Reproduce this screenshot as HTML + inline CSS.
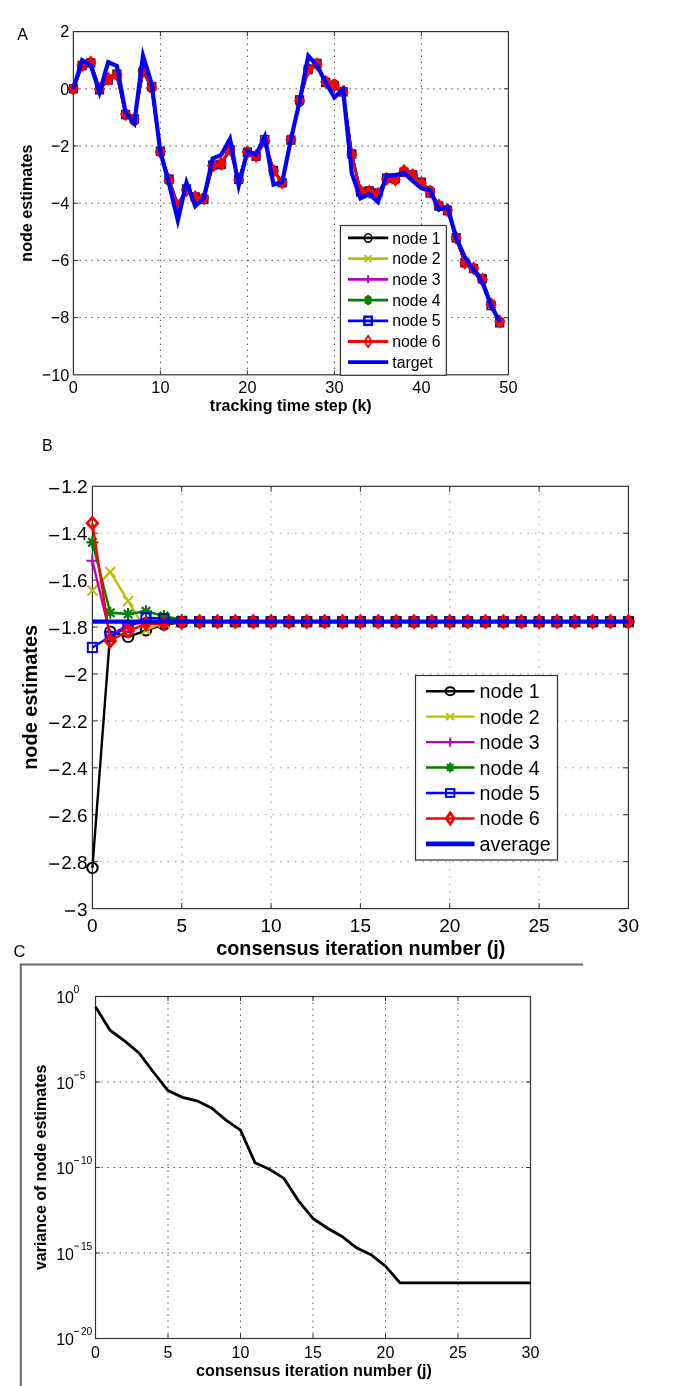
<!DOCTYPE html>
<html><head><meta charset="utf-8"><title>Figure</title>
<style>html,body{margin:0;padding:0;background:#fff;}body{width:685px;height:1386px;overflow:hidden;font-family:"Liberation Sans", sans-serif;}svg{display:block;filter:blur(0.4px);}</style>
</head><body>
<svg width="685" height="1386" viewBox="0 0 685 1386" font-family='"Liberation Sans", sans-serif'><g id="panelA">
<path d="M160.4 31.6V374.8M247.4 31.6V374.8M334.4 31.6V374.8M421.4 31.6V374.8M73.4 88.8H508.4M73.4 146H508.4M73.4 203.2H508.4M73.4 260.4H508.4M73.4 317.6H508.4" stroke="#4a4a4a" stroke-width="1" stroke-dasharray="1.4 4.6" fill="none"/>
<path d="M160.4 374.8v-4.5M160.4 31.6v4.5M247.4 374.8v-4.5M247.4 31.6v4.5M334.4 374.8v-4.5M334.4 31.6v4.5M421.4 374.8v-4.5M421.4 31.6v4.5M73.4 88.8h4.5M508.4 88.8h-4.5M73.4 146h4.5M508.4 146h-4.5M73.4 203.2h4.5M508.4 203.2h-4.5M73.4 260.4h4.5M508.4 260.4h-4.5M73.4 317.6h4.5M508.4 317.6h-4.5" stroke="#333" stroke-width="1" fill="none"/>
<rect x="73.4" y="31.6" width="435" height="343.2" fill="none" stroke="#333" stroke-width="1.2"/>
<polyline points="73.4,88.8 82.1,65.81 90.8,62.36 99.5,89.46 108.2,78.49 116.9,74.14 125.6,115.21 134.3,121.08 143,70.1 151.7,88.34 160.4,152.48 169.1,178.9 177.8,205.86 186.5,189.08 195.2,197.26 203.9,197.65 212.6,166.73 221.3,163.35 230,148.09 238.7,179.68 247.4,151.6 256.1,155.52 264.8,142.1 273.5,170.14 282.2,182.06 290.9,139.99 299.6,102.15 308.3,68.31 317,64.28 325.7,81.31 334.4,84 343.1,91.33 351.8,153.66 360.5,191.49 369.2,190.9 377.9,194.21 386.6,177.64 395.3,178.38 404,172.03 412.7,176.21 421.4,183.99 430.1,190.43 438.8,205.67 447.5,209.7 456.2,238.38 464.9,262.67 473.6,268.73 482.3,279.99 491,303.91 499.7,321.36" fill="none" stroke="#000000" stroke-width="2.4" stroke-linejoin="miter" stroke-miterlimit="10" />
<circle cx="73.4" cy="88.8" r="4" fill="none" stroke="#000000" stroke-width="1.5"/><circle cx="82.1" cy="65.81" r="4" fill="none" stroke="#000000" stroke-width="1.5"/><circle cx="90.8" cy="62.36" r="4" fill="none" stroke="#000000" stroke-width="1.5"/><circle cx="99.5" cy="89.46" r="4" fill="none" stroke="#000000" stroke-width="1.5"/><circle cx="108.2" cy="78.49" r="4" fill="none" stroke="#000000" stroke-width="1.5"/><circle cx="116.9" cy="74.14" r="4" fill="none" stroke="#000000" stroke-width="1.5"/><circle cx="125.6" cy="115.21" r="4" fill="none" stroke="#000000" stroke-width="1.5"/><circle cx="134.3" cy="121.08" r="4" fill="none" stroke="#000000" stroke-width="1.5"/><circle cx="143" cy="70.1" r="4" fill="none" stroke="#000000" stroke-width="1.5"/><circle cx="151.7" cy="88.34" r="4" fill="none" stroke="#000000" stroke-width="1.5"/><circle cx="160.4" cy="152.48" r="4" fill="none" stroke="#000000" stroke-width="1.5"/><circle cx="169.1" cy="178.9" r="4" fill="none" stroke="#000000" stroke-width="1.5"/><circle cx="177.8" cy="205.86" r="4" fill="none" stroke="#000000" stroke-width="1.5"/><circle cx="186.5" cy="189.08" r="4" fill="none" stroke="#000000" stroke-width="1.5"/><circle cx="195.2" cy="197.26" r="4" fill="none" stroke="#000000" stroke-width="1.5"/><circle cx="203.9" cy="197.65" r="4" fill="none" stroke="#000000" stroke-width="1.5"/><circle cx="212.6" cy="166.73" r="4" fill="none" stroke="#000000" stroke-width="1.5"/><circle cx="221.3" cy="163.35" r="4" fill="none" stroke="#000000" stroke-width="1.5"/><circle cx="230" cy="148.09" r="4" fill="none" stroke="#000000" stroke-width="1.5"/><circle cx="238.7" cy="179.68" r="4" fill="none" stroke="#000000" stroke-width="1.5"/><circle cx="247.4" cy="151.6" r="4" fill="none" stroke="#000000" stroke-width="1.5"/><circle cx="256.1" cy="155.52" r="4" fill="none" stroke="#000000" stroke-width="1.5"/><circle cx="264.8" cy="142.1" r="4" fill="none" stroke="#000000" stroke-width="1.5"/><circle cx="273.5" cy="170.14" r="4" fill="none" stroke="#000000" stroke-width="1.5"/><circle cx="282.2" cy="182.06" r="4" fill="none" stroke="#000000" stroke-width="1.5"/><circle cx="290.9" cy="139.99" r="4" fill="none" stroke="#000000" stroke-width="1.5"/><circle cx="299.6" cy="102.15" r="4" fill="none" stroke="#000000" stroke-width="1.5"/><circle cx="308.3" cy="68.31" r="4" fill="none" stroke="#000000" stroke-width="1.5"/><circle cx="317" cy="64.28" r="4" fill="none" stroke="#000000" stroke-width="1.5"/><circle cx="325.7" cy="81.31" r="4" fill="none" stroke="#000000" stroke-width="1.5"/><circle cx="334.4" cy="84" r="4" fill="none" stroke="#000000" stroke-width="1.5"/><circle cx="343.1" cy="91.33" r="4" fill="none" stroke="#000000" stroke-width="1.5"/><circle cx="351.8" cy="153.66" r="4" fill="none" stroke="#000000" stroke-width="1.5"/><circle cx="360.5" cy="191.49" r="4" fill="none" stroke="#000000" stroke-width="1.5"/><circle cx="369.2" cy="190.9" r="4" fill="none" stroke="#000000" stroke-width="1.5"/><circle cx="377.9" cy="194.21" r="4" fill="none" stroke="#000000" stroke-width="1.5"/><circle cx="386.6" cy="177.64" r="4" fill="none" stroke="#000000" stroke-width="1.5"/><circle cx="395.3" cy="178.38" r="4" fill="none" stroke="#000000" stroke-width="1.5"/><circle cx="404" cy="172.03" r="4" fill="none" stroke="#000000" stroke-width="1.5"/><circle cx="412.7" cy="176.21" r="4" fill="none" stroke="#000000" stroke-width="1.5"/><circle cx="421.4" cy="183.99" r="4" fill="none" stroke="#000000" stroke-width="1.5"/><circle cx="430.1" cy="190.43" r="4" fill="none" stroke="#000000" stroke-width="1.5"/><circle cx="438.8" cy="205.67" r="4" fill="none" stroke="#000000" stroke-width="1.5"/><circle cx="447.5" cy="209.7" r="4" fill="none" stroke="#000000" stroke-width="1.5"/><circle cx="456.2" cy="238.38" r="4" fill="none" stroke="#000000" stroke-width="1.5"/><circle cx="464.9" cy="262.67" r="4" fill="none" stroke="#000000" stroke-width="1.5"/><circle cx="473.6" cy="268.73" r="4" fill="none" stroke="#000000" stroke-width="1.5"/><circle cx="482.3" cy="279.99" r="4" fill="none" stroke="#000000" stroke-width="1.5"/><circle cx="491" cy="303.91" r="4" fill="none" stroke="#000000" stroke-width="1.5"/><circle cx="499.7" cy="321.36" r="4" fill="none" stroke="#000000" stroke-width="1.5"/>
<polyline points="73.4,88.8 82.1,63.91 90.8,61.97 99.5,87.86 108.2,77.77 116.9,73.1 125.6,113.48 134.3,120.65 143,70.04 151.7,86.33 160.4,150.56 169.1,180.12 177.8,205.16 186.5,190.87 195.2,196.25 203.9,197.84 212.6,166.35 221.3,164.98 230,148.13 238.7,178.35 247.4,153.47 256.1,155.15 264.8,141.11 273.5,171.88 282.2,182.91 290.9,138.65 299.6,99.75 308.3,70.66 317,63.88 325.7,83.24 334.4,84.46 343.1,92.43 351.8,153.78 360.5,189.81 369.2,191.74 377.9,192.62 386.6,179.43 395.3,180.67 404,170.6 412.7,176.51 421.4,184.05 430.1,192.02 438.8,205.17 447.5,211.05 456.2,239.11 464.9,261.64 473.6,268.94 482.3,278.25 491,303.02 499.7,321.95" fill="none" stroke="#bfbf00" stroke-width="2.4" stroke-linejoin="miter" stroke-miterlimit="10" />
<path d="M69.6 85L77.2 92.6M69.6 92.6L77.2 85" stroke="#bfbf00" stroke-width="1.6" fill="none"/><path d="M78.3 60.11L85.9 67.71M78.3 67.71L85.9 60.11" stroke="#bfbf00" stroke-width="1.6" fill="none"/><path d="M87 58.17L94.6 65.77M87 65.77L94.6 58.17" stroke="#bfbf00" stroke-width="1.6" fill="none"/><path d="M95.7 84.06L103.3 91.66M95.7 91.66L103.3 84.06" stroke="#bfbf00" stroke-width="1.6" fill="none"/><path d="M104.4 73.97L112 81.57M104.4 81.57L112 73.97" stroke="#bfbf00" stroke-width="1.6" fill="none"/><path d="M113.1 69.3L120.7 76.9M113.1 76.9L120.7 69.3" stroke="#bfbf00" stroke-width="1.6" fill="none"/><path d="M121.8 109.68L129.4 117.28M121.8 117.28L129.4 109.68" stroke="#bfbf00" stroke-width="1.6" fill="none"/><path d="M130.5 116.85L138.1 124.45M130.5 124.45L138.1 116.85" stroke="#bfbf00" stroke-width="1.6" fill="none"/><path d="M139.2 66.24L146.8 73.84M139.2 73.84L146.8 66.24" stroke="#bfbf00" stroke-width="1.6" fill="none"/><path d="M147.9 82.53L155.5 90.13M147.9 90.13L155.5 82.53" stroke="#bfbf00" stroke-width="1.6" fill="none"/><path d="M156.6 146.76L164.2 154.36M156.6 154.36L164.2 146.76" stroke="#bfbf00" stroke-width="1.6" fill="none"/><path d="M165.3 176.32L172.9 183.92M165.3 183.92L172.9 176.32" stroke="#bfbf00" stroke-width="1.6" fill="none"/><path d="M174 201.36L181.6 208.96M174 208.96L181.6 201.36" stroke="#bfbf00" stroke-width="1.6" fill="none"/><path d="M182.7 187.07L190.3 194.67M182.7 194.67L190.3 187.07" stroke="#bfbf00" stroke-width="1.6" fill="none"/><path d="M191.4 192.45L199 200.05M191.4 200.05L199 192.45" stroke="#bfbf00" stroke-width="1.6" fill="none"/><path d="M200.1 194.04L207.7 201.64M200.1 201.64L207.7 194.04" stroke="#bfbf00" stroke-width="1.6" fill="none"/><path d="M208.8 162.55L216.4 170.15M208.8 170.15L216.4 162.55" stroke="#bfbf00" stroke-width="1.6" fill="none"/><path d="M217.5 161.18L225.1 168.78M217.5 168.78L225.1 161.18" stroke="#bfbf00" stroke-width="1.6" fill="none"/><path d="M226.2 144.33L233.8 151.93M226.2 151.93L233.8 144.33" stroke="#bfbf00" stroke-width="1.6" fill="none"/><path d="M234.9 174.55L242.5 182.15M234.9 182.15L242.5 174.55" stroke="#bfbf00" stroke-width="1.6" fill="none"/><path d="M243.6 149.67L251.2 157.27M243.6 157.27L251.2 149.67" stroke="#bfbf00" stroke-width="1.6" fill="none"/><path d="M252.3 151.35L259.9 158.95M252.3 158.95L259.9 151.35" stroke="#bfbf00" stroke-width="1.6" fill="none"/><path d="M261 137.31L268.6 144.91M261 144.91L268.6 137.31" stroke="#bfbf00" stroke-width="1.6" fill="none"/><path d="M269.7 168.08L277.3 175.68M269.7 175.68L277.3 168.08" stroke="#bfbf00" stroke-width="1.6" fill="none"/><path d="M278.4 179.11L286 186.71M278.4 186.71L286 179.11" stroke="#bfbf00" stroke-width="1.6" fill="none"/><path d="M287.1 134.85L294.7 142.45M287.1 142.45L294.7 134.85" stroke="#bfbf00" stroke-width="1.6" fill="none"/><path d="M295.8 95.95L303.4 103.55M295.8 103.55L303.4 95.95" stroke="#bfbf00" stroke-width="1.6" fill="none"/><path d="M304.5 66.86L312.1 74.46M304.5 74.46L312.1 66.86" stroke="#bfbf00" stroke-width="1.6" fill="none"/><path d="M313.2 60.08L320.8 67.68M313.2 67.68L320.8 60.08" stroke="#bfbf00" stroke-width="1.6" fill="none"/><path d="M321.9 79.44L329.5 87.04M321.9 87.04L329.5 79.44" stroke="#bfbf00" stroke-width="1.6" fill="none"/><path d="M330.6 80.66L338.2 88.26M330.6 88.26L338.2 80.66" stroke="#bfbf00" stroke-width="1.6" fill="none"/><path d="M339.3 88.63L346.9 96.23M339.3 96.23L346.9 88.63" stroke="#bfbf00" stroke-width="1.6" fill="none"/><path d="M348 149.98L355.6 157.58M348 157.58L355.6 149.98" stroke="#bfbf00" stroke-width="1.6" fill="none"/><path d="M356.7 186.01L364.3 193.61M356.7 193.61L364.3 186.01" stroke="#bfbf00" stroke-width="1.6" fill="none"/><path d="M365.4 187.94L373 195.54M365.4 195.54L373 187.94" stroke="#bfbf00" stroke-width="1.6" fill="none"/><path d="M374.1 188.82L381.7 196.42M374.1 196.42L381.7 188.82" stroke="#bfbf00" stroke-width="1.6" fill="none"/><path d="M382.8 175.63L390.4 183.23M382.8 183.23L390.4 175.63" stroke="#bfbf00" stroke-width="1.6" fill="none"/><path d="M391.5 176.87L399.1 184.47M391.5 184.47L399.1 176.87" stroke="#bfbf00" stroke-width="1.6" fill="none"/><path d="M400.2 166.8L407.8 174.4M400.2 174.4L407.8 166.8" stroke="#bfbf00" stroke-width="1.6" fill="none"/><path d="M408.9 172.71L416.5 180.31M408.9 180.31L416.5 172.71" stroke="#bfbf00" stroke-width="1.6" fill="none"/><path d="M417.6 180.25L425.2 187.85M417.6 187.85L425.2 180.25" stroke="#bfbf00" stroke-width="1.6" fill="none"/><path d="M426.3 188.22L433.9 195.82M426.3 195.82L433.9 188.22" stroke="#bfbf00" stroke-width="1.6" fill="none"/><path d="M435 201.37L442.6 208.97M435 208.97L442.6 201.37" stroke="#bfbf00" stroke-width="1.6" fill="none"/><path d="M443.7 207.25L451.3 214.85M443.7 214.85L451.3 207.25" stroke="#bfbf00" stroke-width="1.6" fill="none"/><path d="M452.4 235.31L460 242.91M452.4 242.91L460 235.31" stroke="#bfbf00" stroke-width="1.6" fill="none"/><path d="M461.1 257.84L468.7 265.44M461.1 265.44L468.7 257.84" stroke="#bfbf00" stroke-width="1.6" fill="none"/><path d="M469.8 265.14L477.4 272.74M469.8 272.74L477.4 265.14" stroke="#bfbf00" stroke-width="1.6" fill="none"/><path d="M478.5 274.45L486.1 282.05M478.5 282.05L486.1 274.45" stroke="#bfbf00" stroke-width="1.6" fill="none"/><path d="M487.2 299.22L494.8 306.82M487.2 306.82L494.8 299.22" stroke="#bfbf00" stroke-width="1.6" fill="none"/><path d="M495.9 318.15L503.5 325.75M495.9 325.75L503.5 318.15" stroke="#bfbf00" stroke-width="1.6" fill="none"/>
<polyline points="73.4,88.8 82.1,65.18 90.8,62.43 99.5,88.67 108.2,78.52 116.9,74.33 125.6,113.62 134.3,118.43 143,71.05 151.7,87.85 160.4,151.09 169.1,181.07 177.8,206.34 186.5,188.68 195.2,197.13 203.9,197.91 212.6,167.13 221.3,163.97 230,148.92 238.7,181.12 247.4,151.96 256.1,155.63 264.8,142.11 273.5,170.52 282.2,182.42 290.9,138.91 299.6,101.23 308.3,68.76 317,63.52 325.7,83.3 334.4,86.34 343.1,91.44 351.8,153.54 360.5,191.9 369.2,191.88 377.9,193.78 386.6,179.4 395.3,179.85 404,171.42 412.7,175.55 421.4,182.91 430.1,192.33 438.8,205.84 447.5,209.29 456.2,239.16 464.9,262.49 473.6,267.74 482.3,280.11 491,304.95 499.7,320.74" fill="none" stroke="#bf00bf" stroke-width="2.4" stroke-linejoin="miter" stroke-miterlimit="10" />
<path d="M68.8 88.8L78 88.8M73.4 84.2L73.4 93.4" stroke="#bf00bf" stroke-width="1.6" fill="none"/><path d="M77.5 65.18L86.7 65.18M82.1 60.58L82.1 69.78" stroke="#bf00bf" stroke-width="1.6" fill="none"/><path d="M86.2 62.43L95.4 62.43M90.8 57.83L90.8 67.03" stroke="#bf00bf" stroke-width="1.6" fill="none"/><path d="M94.9 88.67L104.1 88.67M99.5 84.07L99.5 93.27" stroke="#bf00bf" stroke-width="1.6" fill="none"/><path d="M103.6 78.52L112.8 78.52M108.2 73.92L108.2 83.12" stroke="#bf00bf" stroke-width="1.6" fill="none"/><path d="M112.3 74.33L121.5 74.33M116.9 69.73L116.9 78.93" stroke="#bf00bf" stroke-width="1.6" fill="none"/><path d="M121 113.62L130.2 113.62M125.6 109.02L125.6 118.22" stroke="#bf00bf" stroke-width="1.6" fill="none"/><path d="M129.7 118.43L138.9 118.43M134.3 113.83L134.3 123.03" stroke="#bf00bf" stroke-width="1.6" fill="none"/><path d="M138.4 71.05L147.6 71.05M143 66.45L143 75.65" stroke="#bf00bf" stroke-width="1.6" fill="none"/><path d="M147.1 87.85L156.3 87.85M151.7 83.25L151.7 92.45" stroke="#bf00bf" stroke-width="1.6" fill="none"/><path d="M155.8 151.09L165 151.09M160.4 146.49L160.4 155.69" stroke="#bf00bf" stroke-width="1.6" fill="none"/><path d="M164.5 181.07L173.7 181.07M169.1 176.47L169.1 185.67" stroke="#bf00bf" stroke-width="1.6" fill="none"/><path d="M173.2 206.34L182.4 206.34M177.8 201.74L177.8 210.94" stroke="#bf00bf" stroke-width="1.6" fill="none"/><path d="M181.9 188.68L191.1 188.68M186.5 184.08L186.5 193.28" stroke="#bf00bf" stroke-width="1.6" fill="none"/><path d="M190.6 197.13L199.8 197.13M195.2 192.53L195.2 201.73" stroke="#bf00bf" stroke-width="1.6" fill="none"/><path d="M199.3 197.91L208.5 197.91M203.9 193.31L203.9 202.51" stroke="#bf00bf" stroke-width="1.6" fill="none"/><path d="M208 167.13L217.2 167.13M212.6 162.53L212.6 171.73" stroke="#bf00bf" stroke-width="1.6" fill="none"/><path d="M216.7 163.97L225.9 163.97M221.3 159.37L221.3 168.57" stroke="#bf00bf" stroke-width="1.6" fill="none"/><path d="M225.4 148.92L234.6 148.92M230 144.32L230 153.52" stroke="#bf00bf" stroke-width="1.6" fill="none"/><path d="M234.1 181.12L243.3 181.12M238.7 176.52L238.7 185.72" stroke="#bf00bf" stroke-width="1.6" fill="none"/><path d="M242.8 151.96L252 151.96M247.4 147.36L247.4 156.56" stroke="#bf00bf" stroke-width="1.6" fill="none"/><path d="M251.5 155.63L260.7 155.63M256.1 151.03L256.1 160.23" stroke="#bf00bf" stroke-width="1.6" fill="none"/><path d="M260.2 142.11L269.4 142.11M264.8 137.51L264.8 146.71" stroke="#bf00bf" stroke-width="1.6" fill="none"/><path d="M268.9 170.52L278.1 170.52M273.5 165.92L273.5 175.12" stroke="#bf00bf" stroke-width="1.6" fill="none"/><path d="M277.6 182.42L286.8 182.42M282.2 177.82L282.2 187.02" stroke="#bf00bf" stroke-width="1.6" fill="none"/><path d="M286.3 138.91L295.5 138.91M290.9 134.31L290.9 143.51" stroke="#bf00bf" stroke-width="1.6" fill="none"/><path d="M295 101.23L304.2 101.23M299.6 96.63L299.6 105.83" stroke="#bf00bf" stroke-width="1.6" fill="none"/><path d="M303.7 68.76L312.9 68.76M308.3 64.16L308.3 73.36" stroke="#bf00bf" stroke-width="1.6" fill="none"/><path d="M312.4 63.52L321.6 63.52M317 58.92L317 68.12" stroke="#bf00bf" stroke-width="1.6" fill="none"/><path d="M321.1 83.3L330.3 83.3M325.7 78.7L325.7 87.9" stroke="#bf00bf" stroke-width="1.6" fill="none"/><path d="M329.8 86.34L339 86.34M334.4 81.74L334.4 90.94" stroke="#bf00bf" stroke-width="1.6" fill="none"/><path d="M338.5 91.44L347.7 91.44M343.1 86.84L343.1 96.04" stroke="#bf00bf" stroke-width="1.6" fill="none"/><path d="M347.2 153.54L356.4 153.54M351.8 148.94L351.8 158.14" stroke="#bf00bf" stroke-width="1.6" fill="none"/><path d="M355.9 191.9L365.1 191.9M360.5 187.3L360.5 196.5" stroke="#bf00bf" stroke-width="1.6" fill="none"/><path d="M364.6 191.88L373.8 191.88M369.2 187.28L369.2 196.48" stroke="#bf00bf" stroke-width="1.6" fill="none"/><path d="M373.3 193.78L382.5 193.78M377.9 189.18L377.9 198.38" stroke="#bf00bf" stroke-width="1.6" fill="none"/><path d="M382 179.4L391.2 179.4M386.6 174.8L386.6 184" stroke="#bf00bf" stroke-width="1.6" fill="none"/><path d="M390.7 179.85L399.9 179.85M395.3 175.25L395.3 184.45" stroke="#bf00bf" stroke-width="1.6" fill="none"/><path d="M399.4 171.42L408.6 171.42M404 166.82L404 176.02" stroke="#bf00bf" stroke-width="1.6" fill="none"/><path d="M408.1 175.55L417.3 175.55M412.7 170.95L412.7 180.15" stroke="#bf00bf" stroke-width="1.6" fill="none"/><path d="M416.8 182.91L426 182.91M421.4 178.31L421.4 187.51" stroke="#bf00bf" stroke-width="1.6" fill="none"/><path d="M425.5 192.33L434.7 192.33M430.1 187.73L430.1 196.93" stroke="#bf00bf" stroke-width="1.6" fill="none"/><path d="M434.2 205.84L443.4 205.84M438.8 201.24L438.8 210.44" stroke="#bf00bf" stroke-width="1.6" fill="none"/><path d="M442.9 209.29L452.1 209.29M447.5 204.69L447.5 213.89" stroke="#bf00bf" stroke-width="1.6" fill="none"/><path d="M451.6 239.16L460.8 239.16M456.2 234.56L456.2 243.76" stroke="#bf00bf" stroke-width="1.6" fill="none"/><path d="M460.3 262.49L469.5 262.49M464.9 257.89L464.9 267.09" stroke="#bf00bf" stroke-width="1.6" fill="none"/><path d="M469 267.74L478.2 267.74M473.6 263.14L473.6 272.34" stroke="#bf00bf" stroke-width="1.6" fill="none"/><path d="M477.7 280.11L486.9 280.11M482.3 275.51L482.3 284.71" stroke="#bf00bf" stroke-width="1.6" fill="none"/><path d="M486.4 304.95L495.6 304.95M491 300.35L491 309.55" stroke="#bf00bf" stroke-width="1.6" fill="none"/><path d="M495.1 320.74L504.3 320.74M499.7 316.14L499.7 325.34" stroke="#bf00bf" stroke-width="1.6" fill="none"/>
<polyline points="73.4,88.8 82.1,65.81 90.8,63.38 99.5,89.27 108.2,78.22 116.9,75.64 125.6,114.48 134.3,120.16 143,70.11 151.7,87.83 160.4,150.7 169.1,181.27 177.8,206.24 186.5,189.61 195.2,196.09 203.9,198.19 212.6,166.52 221.3,164.82 230,149.06 238.7,180.63 247.4,151.41 256.1,155.04 264.8,141.76 273.5,171.52 282.2,181.44 290.9,139.02 299.6,99.94 308.3,69.79 317,65.26 325.7,82.53 334.4,84.24 343.1,92.6 351.8,155.31 360.5,191.43 369.2,191.99 377.9,194.31 386.6,177.69 395.3,180.45 404,172.3 412.7,173.9 421.4,182.09 430.1,190.37 438.8,205.68 447.5,208.78 456.2,236.58 464.9,263.48 473.6,267.71 482.3,278.6 491,303.69 499.7,321.55" fill="none" stroke="#008000" stroke-width="2.4" stroke-linejoin="miter" stroke-miterlimit="10" />
<path d="M68.8 88.8L78 88.8M73.4 84.2L73.4 93.4M70.15 85.55L76.65 92.05M70.15 92.05L76.65 85.55" stroke="#008000" stroke-width="1.6" fill="none"/><path d="M77.5 65.81L86.7 65.81M82.1 61.21L82.1 70.41M78.85 62.56L85.35 69.06M78.85 69.06L85.35 62.56" stroke="#008000" stroke-width="1.6" fill="none"/><path d="M86.2 63.38L95.4 63.38M90.8 58.78L90.8 67.98M87.55 60.13L94.05 66.63M87.55 66.63L94.05 60.13" stroke="#008000" stroke-width="1.6" fill="none"/><path d="M94.9 89.27L104.1 89.27M99.5 84.67L99.5 93.87M96.25 86.02L102.75 92.52M96.25 92.52L102.75 86.02" stroke="#008000" stroke-width="1.6" fill="none"/><path d="M103.6 78.22L112.8 78.22M108.2 73.62L108.2 82.82M104.95 74.97L111.45 81.48M104.95 81.48L111.45 74.97" stroke="#008000" stroke-width="1.6" fill="none"/><path d="M112.3 75.64L121.5 75.64M116.9 71.04L116.9 80.24M113.65 72.39L120.15 78.89M113.65 78.89L120.15 72.39" stroke="#008000" stroke-width="1.6" fill="none"/><path d="M121 114.48L130.2 114.48M125.6 109.88L125.6 119.08M122.35 111.22L128.85 117.73M122.35 117.73L128.85 111.22" stroke="#008000" stroke-width="1.6" fill="none"/><path d="M129.7 120.16L138.9 120.16M134.3 115.56L134.3 124.76M131.05 116.91L137.55 123.42M131.05 123.42L137.55 116.91" stroke="#008000" stroke-width="1.6" fill="none"/><path d="M138.4 70.11L147.6 70.11M143 65.51L143 74.71M139.75 66.86L146.25 73.37M139.75 73.37L146.25 66.86" stroke="#008000" stroke-width="1.6" fill="none"/><path d="M147.1 87.83L156.3 87.83M151.7 83.23L151.7 92.43M148.45 84.58L154.95 91.08M148.45 91.08L154.95 84.58" stroke="#008000" stroke-width="1.6" fill="none"/><path d="M155.8 150.7L165 150.7M160.4 146.1L160.4 155.3M157.15 147.45L163.65 153.96M157.15 153.96L163.65 147.45" stroke="#008000" stroke-width="1.6" fill="none"/><path d="M164.5 181.27L173.7 181.27M169.1 176.67L169.1 185.87M165.85 178.01L172.35 184.52M165.85 184.52L172.35 178.01" stroke="#008000" stroke-width="1.6" fill="none"/><path d="M173.2 206.24L182.4 206.24M177.8 201.64L177.8 210.84M174.55 202.99L181.05 209.49M174.55 209.49L181.05 202.99" stroke="#008000" stroke-width="1.6" fill="none"/><path d="M181.9 189.61L191.1 189.61M186.5 185.01L186.5 194.21M183.25 186.36L189.75 192.87M183.25 192.87L189.75 186.36" stroke="#008000" stroke-width="1.6" fill="none"/><path d="M190.6 196.09L199.8 196.09M195.2 191.49L195.2 200.69M191.95 192.84L198.45 199.35M191.95 199.35L198.45 192.84" stroke="#008000" stroke-width="1.6" fill="none"/><path d="M199.3 198.19L208.5 198.19M203.9 193.59L203.9 202.79M200.65 194.94L207.15 201.44M200.65 201.44L207.15 194.94" stroke="#008000" stroke-width="1.6" fill="none"/><path d="M208 166.52L217.2 166.52M212.6 161.92L212.6 171.12M209.35 163.27L215.85 169.77M209.35 169.77L215.85 163.27" stroke="#008000" stroke-width="1.6" fill="none"/><path d="M216.7 164.82L225.9 164.82M221.3 160.22L221.3 169.42M218.05 161.56L224.55 168.07M218.05 168.07L224.55 161.56" stroke="#008000" stroke-width="1.6" fill="none"/><path d="M225.4 149.06L234.6 149.06M230 144.46L230 153.66M226.75 145.81L233.25 152.31M226.75 152.31L233.25 145.81" stroke="#008000" stroke-width="1.6" fill="none"/><path d="M234.1 180.63L243.3 180.63M238.7 176.03L238.7 185.23M235.45 177.38L241.95 183.88M235.45 183.88L241.95 177.38" stroke="#008000" stroke-width="1.6" fill="none"/><path d="M242.8 151.41L252 151.41M247.4 146.81L247.4 156.01M244.15 148.16L250.65 154.67M244.15 154.67L250.65 148.16" stroke="#008000" stroke-width="1.6" fill="none"/><path d="M251.5 155.04L260.7 155.04M256.1 150.44L256.1 159.64M252.85 151.79L259.35 158.29M252.85 158.29L259.35 151.79" stroke="#008000" stroke-width="1.6" fill="none"/><path d="M260.2 141.76L269.4 141.76M264.8 137.16L264.8 146.36M261.55 138.5L268.05 145.01M261.55 145.01L268.05 138.5" stroke="#008000" stroke-width="1.6" fill="none"/><path d="M268.9 171.52L278.1 171.52M273.5 166.92L273.5 176.12M270.25 168.26L276.75 174.77M270.25 174.77L276.75 168.26" stroke="#008000" stroke-width="1.6" fill="none"/><path d="M277.6 181.44L286.8 181.44M282.2 176.84L282.2 186.04M278.95 178.19L285.45 184.7M278.95 184.7L285.45 178.19" stroke="#008000" stroke-width="1.6" fill="none"/><path d="M286.3 139.02L295.5 139.02M290.9 134.42L290.9 143.62M287.65 135.76L294.15 142.27M287.65 142.27L294.15 135.76" stroke="#008000" stroke-width="1.6" fill="none"/><path d="M295 99.94L304.2 99.94M299.6 95.34L299.6 104.54M296.35 96.68L302.85 103.19M296.35 103.19L302.85 96.68" stroke="#008000" stroke-width="1.6" fill="none"/><path d="M303.7 69.79L312.9 69.79M308.3 65.19L308.3 74.39M305.05 66.54L311.55 73.05M305.05 73.05L311.55 66.54" stroke="#008000" stroke-width="1.6" fill="none"/><path d="M312.4 65.26L321.6 65.26M317 60.66L317 69.86M313.75 62.01L320.25 68.52M313.75 68.52L320.25 62.01" stroke="#008000" stroke-width="1.6" fill="none"/><path d="M321.1 82.53L330.3 82.53M325.7 77.93L325.7 87.13M322.45 79.28L328.95 85.78M322.45 85.78L328.95 79.28" stroke="#008000" stroke-width="1.6" fill="none"/><path d="M329.8 84.24L339 84.24M334.4 79.64L334.4 88.84M331.15 80.99L337.65 87.49M331.15 87.49L337.65 80.99" stroke="#008000" stroke-width="1.6" fill="none"/><path d="M338.5 92.6L347.7 92.6M343.1 88L343.1 97.2M339.85 89.35L346.35 95.85M339.85 95.85L346.35 89.35" stroke="#008000" stroke-width="1.6" fill="none"/><path d="M347.2 155.31L356.4 155.31M351.8 150.71L351.8 159.91M348.55 152.05L355.05 158.56M348.55 158.56L355.05 152.05" stroke="#008000" stroke-width="1.6" fill="none"/><path d="M355.9 191.43L365.1 191.43M360.5 186.83L360.5 196.03M357.25 188.17L363.75 194.68M357.25 194.68L363.75 188.17" stroke="#008000" stroke-width="1.6" fill="none"/><path d="M364.6 191.99L373.8 191.99M369.2 187.39L369.2 196.59M365.95 188.74L372.45 195.24M365.95 195.24L372.45 188.74" stroke="#008000" stroke-width="1.6" fill="none"/><path d="M373.3 194.31L382.5 194.31M377.9 189.71L377.9 198.91M374.65 191.05L381.15 197.56M374.65 197.56L381.15 191.05" stroke="#008000" stroke-width="1.6" fill="none"/><path d="M382 177.69L391.2 177.69M386.6 173.09L386.6 182.29M383.35 174.43L389.85 180.94M383.35 180.94L389.85 174.43" stroke="#008000" stroke-width="1.6" fill="none"/><path d="M390.7 180.45L399.9 180.45M395.3 175.85L395.3 185.05M392.05 177.19L398.55 183.7M392.05 183.7L398.55 177.19" stroke="#008000" stroke-width="1.6" fill="none"/><path d="M399.4 172.3L408.6 172.3M404 167.7L404 176.9M400.75 169.05L407.25 175.55M400.75 175.55L407.25 169.05" stroke="#008000" stroke-width="1.6" fill="none"/><path d="M408.1 173.9L417.3 173.9M412.7 169.3L412.7 178.5M409.45 170.65L415.95 177.16M409.45 177.16L415.95 170.65" stroke="#008000" stroke-width="1.6" fill="none"/><path d="M416.8 182.09L426 182.09M421.4 177.49L421.4 186.69M418.15 178.84L424.65 185.35M418.15 185.35L424.65 178.84" stroke="#008000" stroke-width="1.6" fill="none"/><path d="M425.5 190.37L434.7 190.37M430.1 185.77L430.1 194.97M426.85 187.11L433.35 193.62M426.85 193.62L433.35 187.11" stroke="#008000" stroke-width="1.6" fill="none"/><path d="M434.2 205.68L443.4 205.68M438.8 201.08L438.8 210.28M435.55 202.42L442.05 208.93M435.55 208.93L442.05 202.42" stroke="#008000" stroke-width="1.6" fill="none"/><path d="M442.9 208.78L452.1 208.78M447.5 204.18L447.5 213.38M444.25 205.52L450.75 212.03M444.25 212.03L450.75 205.52" stroke="#008000" stroke-width="1.6" fill="none"/><path d="M451.6 236.58L460.8 236.58M456.2 231.98L456.2 241.18M452.95 233.33L459.45 239.84M452.95 239.84L459.45 233.33" stroke="#008000" stroke-width="1.6" fill="none"/><path d="M460.3 263.48L469.5 263.48M464.9 258.88L464.9 268.08M461.65 260.23L468.15 266.74M461.65 266.74L468.15 260.23" stroke="#008000" stroke-width="1.6" fill="none"/><path d="M469 267.71L478.2 267.71M473.6 263.11L473.6 272.31M470.35 264.45L476.85 270.96M470.35 270.96L476.85 264.45" stroke="#008000" stroke-width="1.6" fill="none"/><path d="M477.7 278.6L486.9 278.6M482.3 274L482.3 283.2M479.05 275.35L485.55 281.85M479.05 281.85L485.55 275.35" stroke="#008000" stroke-width="1.6" fill="none"/><path d="M486.4 303.69L495.6 303.69M491 299.09L491 308.29M487.75 300.44L494.25 306.94M487.75 306.94L494.25 300.44" stroke="#008000" stroke-width="1.6" fill="none"/><path d="M495.1 321.55L504.3 321.55M499.7 316.95L499.7 326.15M496.45 318.3L502.95 324.8M496.45 324.8L502.95 318.3" stroke="#008000" stroke-width="1.6" fill="none"/>
<polyline points="73.4,88.8 82.1,65.67 90.8,62.94 99.5,89.87 108.2,80.03 116.9,74.25 125.6,114.58 134.3,118.8 143,72.37 151.7,86.5 160.4,151.17 169.1,179.11 177.8,204.64 186.5,188.9 195.2,196.97 203.9,199.44 212.6,165.03 221.3,164.67 230,149.72 238.7,179.28 247.4,152.22 256.1,156.26 264.8,139.6 273.5,170.56 282.2,182.78 290.9,140.13 299.6,99.78 308.3,69.42 317,63.4 325.7,82.36 334.4,85.95 343.1,91.85 351.8,153.96 360.5,192.13 369.2,190.93 377.9,192.84 386.6,178.01 395.3,178.54 404,172.29 412.7,174.8 421.4,182.14 430.1,193.05 438.8,206.14 447.5,210.73 456.2,237.73 464.9,262.91 473.6,268.49 482.3,278.77 491,305.58 499.7,322.88" fill="none" stroke="#0000ff" stroke-width="2.4" stroke-linejoin="miter" stroke-miterlimit="10" />
<rect x="69.5" y="84.9" width="7.8" height="7.8" fill="none" stroke="#10108a" stroke-width="1.5"/><rect x="78.2" y="61.77" width="7.8" height="7.8" fill="none" stroke="#10108a" stroke-width="1.5"/><rect x="86.9" y="59.04" width="7.8" height="7.8" fill="none" stroke="#10108a" stroke-width="1.5"/><rect x="95.6" y="85.97" width="7.8" height="7.8" fill="none" stroke="#10108a" stroke-width="1.5"/><rect x="104.3" y="76.13" width="7.8" height="7.8" fill="none" stroke="#10108a" stroke-width="1.5"/><rect x="113" y="70.35" width="7.8" height="7.8" fill="none" stroke="#10108a" stroke-width="1.5"/><rect x="121.7" y="110.68" width="7.8" height="7.8" fill="none" stroke="#10108a" stroke-width="1.5"/><rect x="130.4" y="114.9" width="7.8" height="7.8" fill="none" stroke="#10108a" stroke-width="1.5"/><rect x="139.1" y="68.47" width="7.8" height="7.8" fill="none" stroke="#10108a" stroke-width="1.5"/><rect x="147.8" y="82.6" width="7.8" height="7.8" fill="none" stroke="#10108a" stroke-width="1.5"/><rect x="156.5" y="147.27" width="7.8" height="7.8" fill="none" stroke="#10108a" stroke-width="1.5"/><rect x="165.2" y="175.21" width="7.8" height="7.8" fill="none" stroke="#10108a" stroke-width="1.5"/><rect x="173.9" y="200.74" width="7.8" height="7.8" fill="none" stroke="#10108a" stroke-width="1.5"/><rect x="182.6" y="185" width="7.8" height="7.8" fill="none" stroke="#10108a" stroke-width="1.5"/><rect x="191.3" y="193.07" width="7.8" height="7.8" fill="none" stroke="#10108a" stroke-width="1.5"/><rect x="200" y="195.54" width="7.8" height="7.8" fill="none" stroke="#10108a" stroke-width="1.5"/><rect x="208.7" y="161.13" width="7.8" height="7.8" fill="none" stroke="#10108a" stroke-width="1.5"/><rect x="217.4" y="160.77" width="7.8" height="7.8" fill="none" stroke="#10108a" stroke-width="1.5"/><rect x="226.1" y="145.82" width="7.8" height="7.8" fill="none" stroke="#10108a" stroke-width="1.5"/><rect x="234.8" y="175.38" width="7.8" height="7.8" fill="none" stroke="#10108a" stroke-width="1.5"/><rect x="243.5" y="148.32" width="7.8" height="7.8" fill="none" stroke="#10108a" stroke-width="1.5"/><rect x="252.2" y="152.36" width="7.8" height="7.8" fill="none" stroke="#10108a" stroke-width="1.5"/><rect x="260.9" y="135.7" width="7.8" height="7.8" fill="none" stroke="#10108a" stroke-width="1.5"/><rect x="269.6" y="166.66" width="7.8" height="7.8" fill="none" stroke="#10108a" stroke-width="1.5"/><rect x="278.3" y="178.88" width="7.8" height="7.8" fill="none" stroke="#10108a" stroke-width="1.5"/><rect x="287" y="136.23" width="7.8" height="7.8" fill="none" stroke="#10108a" stroke-width="1.5"/><rect x="295.7" y="95.88" width="7.8" height="7.8" fill="none" stroke="#10108a" stroke-width="1.5"/><rect x="304.4" y="65.52" width="7.8" height="7.8" fill="none" stroke="#10108a" stroke-width="1.5"/><rect x="313.1" y="59.5" width="7.8" height="7.8" fill="none" stroke="#10108a" stroke-width="1.5"/><rect x="321.8" y="78.46" width="7.8" height="7.8" fill="none" stroke="#10108a" stroke-width="1.5"/><rect x="330.5" y="82.05" width="7.8" height="7.8" fill="none" stroke="#10108a" stroke-width="1.5"/><rect x="339.2" y="87.95" width="7.8" height="7.8" fill="none" stroke="#10108a" stroke-width="1.5"/><rect x="347.9" y="150.06" width="7.8" height="7.8" fill="none" stroke="#10108a" stroke-width="1.5"/><rect x="356.6" y="188.23" width="7.8" height="7.8" fill="none" stroke="#10108a" stroke-width="1.5"/><rect x="365.3" y="187.03" width="7.8" height="7.8" fill="none" stroke="#10108a" stroke-width="1.5"/><rect x="374" y="188.94" width="7.8" height="7.8" fill="none" stroke="#10108a" stroke-width="1.5"/><rect x="382.7" y="174.11" width="7.8" height="7.8" fill="none" stroke="#10108a" stroke-width="1.5"/><rect x="391.4" y="174.64" width="7.8" height="7.8" fill="none" stroke="#10108a" stroke-width="1.5"/><rect x="400.1" y="168.39" width="7.8" height="7.8" fill="none" stroke="#10108a" stroke-width="1.5"/><rect x="408.8" y="170.9" width="7.8" height="7.8" fill="none" stroke="#10108a" stroke-width="1.5"/><rect x="417.5" y="178.24" width="7.8" height="7.8" fill="none" stroke="#10108a" stroke-width="1.5"/><rect x="426.2" y="189.15" width="7.8" height="7.8" fill="none" stroke="#10108a" stroke-width="1.5"/><rect x="434.9" y="202.24" width="7.8" height="7.8" fill="none" stroke="#10108a" stroke-width="1.5"/><rect x="443.6" y="206.83" width="7.8" height="7.8" fill="none" stroke="#10108a" stroke-width="1.5"/><rect x="452.3" y="233.83" width="7.8" height="7.8" fill="none" stroke="#10108a" stroke-width="1.5"/><rect x="461" y="259.01" width="7.8" height="7.8" fill="none" stroke="#10108a" stroke-width="1.5"/><rect x="469.7" y="264.59" width="7.8" height="7.8" fill="none" stroke="#10108a" stroke-width="1.5"/><rect x="478.4" y="274.87" width="7.8" height="7.8" fill="none" stroke="#10108a" stroke-width="1.5"/><rect x="487.1" y="301.68" width="7.8" height="7.8" fill="none" stroke="#10108a" stroke-width="1.5"/><rect x="495.8" y="318.98" width="7.8" height="7.8" fill="none" stroke="#10108a" stroke-width="1.5"/>
<polyline points="73.4,88.8 82.1,65.06 90.8,62.49 99.5,89.09 108.2,78.79 116.9,74.5 125.6,113.97 134.3,119.69 143,71.07 151.7,87.66 160.4,151.72 169.1,180.32 177.8,205.77 186.5,190.04 195.2,197.19 203.9,198.05 212.6,165.73 221.3,163.73 230,149.15 238.7,179.75 247.4,152.29 256.1,156.01 264.8,140.85 273.5,170.88 282.2,182.32 290.9,139.42 299.6,100.81 308.3,69.35 317,64.2 325.7,81.94 334.4,85.08 343.1,91.95 351.8,154.87 360.5,191.19 369.2,191.76 377.9,194.05 386.6,178.89 395.3,179.46 404,170.88 412.7,175.17 421.4,183.18 430.1,191.76 438.8,205.49 447.5,210.06 456.2,237.81 464.9,262.69 473.6,268.41 482.3,279.56 491,304.16 499.7,321.6" fill="none" stroke="#ff0000" stroke-width="2.4" stroke-linejoin="miter" stroke-miterlimit="10" />
<path d="M73.4 82.6L78.3 88.8L73.4 95L68.5 88.8Z" fill="#ff0000" stroke="#ff0000" stroke-width="1.2"/><path d="M82.1 58.86L87 65.06L82.1 71.26L77.2 65.06Z" fill="#ff0000" stroke="#ff0000" stroke-width="1.2"/><path d="M90.8 56.29L95.7 62.49L90.8 68.69L85.9 62.49Z" fill="#ff0000" stroke="#ff0000" stroke-width="1.2"/><path d="M99.5 82.89L104.4 89.09L99.5 95.29L94.6 89.09Z" fill="#ff0000" stroke="#ff0000" stroke-width="1.2"/><path d="M108.2 72.59L113.1 78.79L108.2 84.99L103.3 78.79Z" fill="#ff0000" stroke="#ff0000" stroke-width="1.2"/><path d="M116.9 68.3L121.8 74.5L116.9 80.7L112 74.5Z" fill="#ff0000" stroke="#ff0000" stroke-width="1.2"/><path d="M125.6 107.77L130.5 113.97L125.6 120.17L120.7 113.97Z" fill="#ff0000" stroke="#ff0000" stroke-width="1.2"/><path d="M134.3 113.49L139.2 119.69L134.3 125.89L129.4 119.69Z" fill="#ff0000" stroke="#ff0000" stroke-width="1.2"/><path d="M143 64.87L147.9 71.07L143 77.27L138.1 71.07Z" fill="#ff0000" stroke="#ff0000" stroke-width="1.2"/><path d="M151.7 81.46L156.6 87.66L151.7 93.86L146.8 87.66Z" fill="#ff0000" stroke="#ff0000" stroke-width="1.2"/><path d="M160.4 145.52L165.3 151.72L160.4 157.92L155.5 151.72Z" fill="#ff0000" stroke="#ff0000" stroke-width="1.2"/><path d="M169.1 174.12L174 180.32L169.1 186.52L164.2 180.32Z" fill="#ff0000" stroke="#ff0000" stroke-width="1.2"/><path d="M177.8 199.57L182.7 205.77L177.8 211.97L172.9 205.77Z" fill="#ff0000" stroke="#ff0000" stroke-width="1.2"/><path d="M186.5 183.84L191.4 190.04L186.5 196.24L181.6 190.04Z" fill="#ff0000" stroke="#ff0000" stroke-width="1.2"/><path d="M195.2 190.99L200.1 197.19L195.2 203.39L190.3 197.19Z" fill="#ff0000" stroke="#ff0000" stroke-width="1.2"/><path d="M203.9 191.85L208.8 198.05L203.9 204.25L199 198.05Z" fill="#ff0000" stroke="#ff0000" stroke-width="1.2"/><path d="M212.6 159.53L217.5 165.73L212.6 171.93L207.7 165.73Z" fill="#ff0000" stroke="#ff0000" stroke-width="1.2"/><path d="M221.3 157.53L226.2 163.73L221.3 169.93L216.4 163.73Z" fill="#ff0000" stroke="#ff0000" stroke-width="1.2"/><path d="M230 142.95L234.9 149.15L230 155.35L225.1 149.15Z" fill="#ff0000" stroke="#ff0000" stroke-width="1.2"/><path d="M238.7 173.55L243.6 179.75L238.7 185.95L233.8 179.75Z" fill="#ff0000" stroke="#ff0000" stroke-width="1.2"/><path d="M247.4 146.09L252.3 152.29L247.4 158.49L242.5 152.29Z" fill="#ff0000" stroke="#ff0000" stroke-width="1.2"/><path d="M256.1 149.81L261 156.01L256.1 162.21L251.2 156.01Z" fill="#ff0000" stroke="#ff0000" stroke-width="1.2"/><path d="M264.8 134.65L269.7 140.85L264.8 147.05L259.9 140.85Z" fill="#ff0000" stroke="#ff0000" stroke-width="1.2"/><path d="M273.5 164.68L278.4 170.88L273.5 177.08L268.6 170.88Z" fill="#ff0000" stroke="#ff0000" stroke-width="1.2"/><path d="M282.2 176.12L287.1 182.32L282.2 188.52L277.3 182.32Z" fill="#ff0000" stroke="#ff0000" stroke-width="1.2"/><path d="M290.9 133.22L295.8 139.42L290.9 145.62L286 139.42Z" fill="#ff0000" stroke="#ff0000" stroke-width="1.2"/><path d="M299.6 94.61L304.5 100.81L299.6 107.01L294.7 100.81Z" fill="#ff0000" stroke="#ff0000" stroke-width="1.2"/><path d="M308.3 63.15L313.2 69.35L308.3 75.55L303.4 69.35Z" fill="#ff0000" stroke="#ff0000" stroke-width="1.2"/><path d="M317 58L321.9 64.2L317 70.4L312.1 64.2Z" fill="#ff0000" stroke="#ff0000" stroke-width="1.2"/><path d="M325.7 75.74L330.6 81.94L325.7 88.14L320.8 81.94Z" fill="#ff0000" stroke="#ff0000" stroke-width="1.2"/><path d="M334.4 78.88L339.3 85.08L334.4 91.28L329.5 85.08Z" fill="#ff0000" stroke="#ff0000" stroke-width="1.2"/><path d="M343.1 85.75L348 91.95L343.1 98.15L338.2 91.95Z" fill="#ff0000" stroke="#ff0000" stroke-width="1.2"/><path d="M351.8 148.67L356.7 154.87L351.8 161.07L346.9 154.87Z" fill="#ff0000" stroke="#ff0000" stroke-width="1.2"/><path d="M360.5 184.99L365.4 191.19L360.5 197.39L355.6 191.19Z" fill="#ff0000" stroke="#ff0000" stroke-width="1.2"/><path d="M369.2 185.56L374.1 191.76L369.2 197.96L364.3 191.76Z" fill="#ff0000" stroke="#ff0000" stroke-width="1.2"/><path d="M377.9 187.85L382.8 194.05L377.9 200.25L373 194.05Z" fill="#ff0000" stroke="#ff0000" stroke-width="1.2"/><path d="M386.6 172.69L391.5 178.89L386.6 185.09L381.7 178.89Z" fill="#ff0000" stroke="#ff0000" stroke-width="1.2"/><path d="M395.3 173.26L400.2 179.46L395.3 185.66L390.4 179.46Z" fill="#ff0000" stroke="#ff0000" stroke-width="1.2"/><path d="M404 164.68L408.9 170.88L404 177.08L399.1 170.88Z" fill="#ff0000" stroke="#ff0000" stroke-width="1.2"/><path d="M412.7 168.97L417.6 175.17L412.7 181.37L407.8 175.17Z" fill="#ff0000" stroke="#ff0000" stroke-width="1.2"/><path d="M421.4 176.98L426.3 183.18L421.4 189.38L416.5 183.18Z" fill="#ff0000" stroke="#ff0000" stroke-width="1.2"/><path d="M430.1 185.56L435 191.76L430.1 197.96L425.2 191.76Z" fill="#ff0000" stroke="#ff0000" stroke-width="1.2"/><path d="M438.8 199.29L443.7 205.49L438.8 211.69L433.9 205.49Z" fill="#ff0000" stroke="#ff0000" stroke-width="1.2"/><path d="M447.5 203.86L452.4 210.06L447.5 216.26L442.6 210.06Z" fill="#ff0000" stroke="#ff0000" stroke-width="1.2"/><path d="M456.2 231.61L461.1 237.81L456.2 244.01L451.3 237.81Z" fill="#ff0000" stroke="#ff0000" stroke-width="1.2"/><path d="M464.9 256.49L469.8 262.69L464.9 268.89L460 262.69Z" fill="#ff0000" stroke="#ff0000" stroke-width="1.2"/><path d="M473.6 262.21L478.5 268.41L473.6 274.61L468.7 268.41Z" fill="#ff0000" stroke="#ff0000" stroke-width="1.2"/><path d="M482.3 273.36L487.2 279.56L482.3 285.76L477.4 279.56Z" fill="#ff0000" stroke="#ff0000" stroke-width="1.2"/><path d="M491 297.96L495.9 304.16L491 310.36L486.1 304.16Z" fill="#ff0000" stroke="#ff0000" stroke-width="1.2"/><path d="M499.7 315.4L504.6 321.6L499.7 327.8L494.8 321.6Z" fill="#ff0000" stroke="#ff0000" stroke-width="1.2"/>
<polyline points="73.4,88.8 82.1,60.2 90.8,65.06 99.5,92.23 108.2,62.2 116.9,65.92 125.6,112.54 134.3,123.41 143,55.91 151.7,83.94 160.4,152.01 169.1,184.04 177.8,220.36 186.5,182.61 195.2,206.06 203.9,198.05 212.6,158.58 221.3,154.87 230,138.85 238.7,185.47 247.4,151.15 256.1,154.58 264.8,136.56 273.5,184.61 282.2,182.32 290.9,139.42 299.6,101.38 308.3,55.91 317,65.63 325.7,82.51 334.4,97.38 343.1,89.37 351.8,173.17 360.5,198.34 369.2,194.05 377.9,202.06 386.6,175.74 395.3,175.17 404,172.88 412.7,180.89 421.4,188.33 430.1,190.33 438.8,209.49 447.5,206.92 456.2,237.81 464.9,257.25 473.6,269.84 482.3,282.14 491,305.59 499.7,321.6" fill="none" stroke="#0000ff" stroke-width="4.2" stroke-linejoin="miter" stroke-miterlimit="10" />
<text x="69.3" y="37.3" font-size="16.3" text-anchor="end" >2</text>
<text x="69.3" y="94.5" font-size="16.3" text-anchor="end" >0</text>
<text x="69.3" y="151.7" font-size="16.3" text-anchor="end" >2</text><rect x="51.78" y="145.45" width="7.6" height="1.3" fill="#000"/>
<text x="69.3" y="208.9" font-size="16.3" text-anchor="end" >4</text><rect x="51.78" y="202.65" width="7.6" height="1.3" fill="#000"/>
<text x="69.3" y="266.1" font-size="16.3" text-anchor="end" >6</text><rect x="51.78" y="259.85" width="7.6" height="1.3" fill="#000"/>
<text x="69.3" y="323.3" font-size="16.3" text-anchor="end" >8</text><rect x="51.78" y="317.05" width="7.6" height="1.3" fill="#000"/>
<text x="69.3" y="380.5" font-size="16.3" text-anchor="end" >10</text><rect x="42.72" y="374.25" width="7.6" height="1.3" fill="#000"/>
<text x="73.4" y="393.4" font-size="16.3" text-anchor="middle" >0</text>
<text x="160.4" y="393.4" font-size="16.3" text-anchor="middle" >10</text>
<text x="247.4" y="393.4" font-size="16.3" text-anchor="middle" >20</text>
<text x="334.4" y="393.4" font-size="16.3" text-anchor="middle" >30</text>
<text x="421.4" y="393.4" font-size="16.3" text-anchor="middle" >40</text>
<text x="508.4" y="393.4" font-size="16.3" text-anchor="middle" >50</text>
<text x="290.8" y="411" font-size="16.1" text-anchor="middle" font-weight="bold" >tracking time step (k)</text>
<text x="0" y="0" font-size="16.1" text-anchor="middle" font-weight="bold" transform="translate(32.1,203.1) rotate(-90)">node estimates</text>
<text x="17.2" y="39.7" font-size="16" >A</text>
<rect x="340.4" y="225.5" width="106.0" height="149.8" fill="#fff" stroke="#333" stroke-width="1.2"/>
<line x1="348" y1="237.9" x2="388.2" y2="237.9" stroke="#000000" stroke-width="2.8"/>
<ellipse cx="368.1" cy="237.9" rx="3.7" ry="4.2" fill="none" stroke="#000000" stroke-width="1.6"/>
<text x="392.3" y="243.6" font-size="15.8" >node 1</text>
<line x1="348" y1="258.62" x2="388.2" y2="258.62" stroke="#bfbf00" stroke-width="2.8"/>
<path d="M364.6 255.12L371.6 262.12M364.6 262.12L371.6 255.12" stroke="#bfbf00" stroke-width="2" fill="none"/>
<text x="392.3" y="264.32" font-size="15.8" >node 2</text>
<line x1="348" y1="279.34" x2="388.2" y2="279.34" stroke="#bf00bf" stroke-width="2.8"/>
<path d="M363.6 279.34L372.6 279.34M368.1 275.34L368.1 283.34" stroke="#bf00bf" stroke-width="2" fill="none"/>
<text x="392.3" y="285.04" font-size="15.8" >node 3</text>
<line x1="348" y1="300.06" x2="388.2" y2="300.06" stroke="#008000" stroke-width="2.8"/>
<path d="M364 300.06L372.2 300.06M368.1 294.96L368.1 305.16M365.2 296.45L371 303.67M365.2 303.67L371 296.45" stroke="#008000" stroke-width="2.4" fill="none"/>
<text x="392.3" y="305.76" font-size="15.8" >node 4</text>
<line x1="348" y1="320.78" x2="388.2" y2="320.78" stroke="#0000ff" stroke-width="2.8"/>
<rect x="364.4" y="316.68" width="7.4" height="8.2" fill="none" stroke="#0000ff" stroke-width="2.4"/>
<text x="392.3" y="326.48" font-size="15.8" >node 5</text>
<line x1="348" y1="341.5" x2="388.2" y2="341.5" stroke="#ff0000" stroke-width="2.8"/>
<path d="M368.1 335.8L371.8 341.5L368.1 347.2L364.4 341.5Z" fill="none" stroke="#ff0000" stroke-width="1.8"/>
<text x="392.3" y="347.2" font-size="15.8" >node 6</text>
<line x1="348" y1="362.22" x2="388.2" y2="362.22" stroke="#0000ff" stroke-width="3.7"/>
<text x="392.3" y="367.92" font-size="15.8" >target</text>
</g>
<g id="panelB">
<path d="M181.74 486.3V908.58M271.07 486.3V908.58M360.4 486.3V908.58M449.74 486.3V908.58M539.08 486.3V908.58M92.4 533.22H628.41M92.4 580.14H628.41M92.4 627.06H628.41M92.4 673.98H628.41M92.4 720.9H628.41M92.4 767.82H628.41M92.4 814.74H628.41M92.4 861.66H628.41" stroke="#999" stroke-width="1" stroke-dasharray="1.5 6" fill="none"/>
<path d="M181.74 908.58v-5.5M181.74 486.3v5.5M271.07 908.58v-5.5M271.07 486.3v5.5M360.4 908.58v-5.5M360.4 486.3v5.5M449.74 908.58v-5.5M449.74 486.3v5.5M539.08 908.58v-5.5M539.08 486.3v5.5M92.4 533.22h5.5M628.41 533.22h-5.5M92.4 580.14h5.5M628.41 580.14h-5.5M92.4 627.06h5.5M628.41 627.06h-5.5M92.4 673.98h5.5M628.41 673.98h-5.5M92.4 720.9h5.5M628.41 720.9h-5.5M92.4 767.82h5.5M628.41 767.82h-5.5M92.4 814.74h5.5M628.41 814.74h-5.5M92.4 861.66h5.5M628.41 861.66h-5.5" stroke="#333" stroke-width="1" fill="none"/>
<rect x="92.4" y="486.3" width="536.01" height="422.28" fill="none" stroke="#333" stroke-width="1.2"/>
<polyline points="92.4,867.99 110.27,631.75 128.13,636.91 146,630.34 163.87,624.71 181.74,622.37 199.6,621.66 217.47,621.66 235.34,621.66 253.2,621.66 271.07,621.66 288.94,621.66 306.8,621.66 324.67,621.66 342.54,621.66 360.4,621.66 378.27,621.66 396.14,621.66 414.01,621.66 431.87,621.66 449.74,621.66 467.61,621.66 485.47,621.66 503.34,621.66 521.21,621.66 539.08,621.66 556.94,621.66 574.81,621.66 592.68,621.66 610.54,621.66 628.41,621.66" fill="none" stroke="#000000" stroke-width="2.4" stroke-linejoin="miter" stroke-miterlimit="10" />
<circle cx="92.4" cy="867.99" r="5.2" fill="none" stroke="#000000" stroke-width="2"/>
<circle cx="110.27" cy="631.75" r="5.2" fill="none" stroke="#000000" stroke-width="2"/>
<circle cx="128.13" cy="636.91" r="5.2" fill="none" stroke="#000000" stroke-width="2"/>
<circle cx="146" cy="630.34" r="5.2" fill="none" stroke="#000000" stroke-width="2"/>
<circle cx="163.87" cy="624.71" r="5.2" fill="none" stroke="#000000" stroke-width="2"/>
<circle cx="181.74" cy="622.37" r="5.2" fill="none" stroke="#000000" stroke-width="2"/>
<circle cx="199.6" cy="621.66" r="5.2" fill="none" stroke="#000000" stroke-width="2"/>
<circle cx="217.47" cy="621.66" r="5.2" fill="none" stroke="#000000" stroke-width="2"/>
<circle cx="235.34" cy="621.66" r="5.2" fill="none" stroke="#000000" stroke-width="2"/>
<circle cx="253.2" cy="621.66" r="5.2" fill="none" stroke="#000000" stroke-width="2"/>
<circle cx="271.07" cy="621.66" r="5.2" fill="none" stroke="#000000" stroke-width="2"/>
<circle cx="288.94" cy="621.66" r="5.2" fill="none" stroke="#000000" stroke-width="2"/>
<circle cx="306.8" cy="621.66" r="5.2" fill="none" stroke="#000000" stroke-width="2"/>
<circle cx="324.67" cy="621.66" r="5.2" fill="none" stroke="#000000" stroke-width="2"/>
<circle cx="342.54" cy="621.66" r="5.2" fill="none" stroke="#000000" stroke-width="2"/>
<circle cx="360.4" cy="621.66" r="5.2" fill="none" stroke="#000000" stroke-width="2"/>
<circle cx="378.27" cy="621.66" r="5.2" fill="none" stroke="#000000" stroke-width="2"/>
<circle cx="396.14" cy="621.66" r="5.2" fill="none" stroke="#000000" stroke-width="2"/>
<circle cx="414.01" cy="621.66" r="5.2" fill="none" stroke="#000000" stroke-width="2"/>
<circle cx="431.87" cy="621.66" r="5.2" fill="none" stroke="#000000" stroke-width="2"/>
<circle cx="449.74" cy="621.66" r="5.2" fill="none" stroke="#000000" stroke-width="2"/>
<circle cx="467.61" cy="621.66" r="5.2" fill="none" stroke="#000000" stroke-width="2"/>
<circle cx="485.47" cy="621.66" r="5.2" fill="none" stroke="#000000" stroke-width="2"/>
<circle cx="503.34" cy="621.66" r="5.2" fill="none" stroke="#000000" stroke-width="2"/>
<circle cx="521.21" cy="621.66" r="5.2" fill="none" stroke="#000000" stroke-width="2"/>
<circle cx="539.08" cy="621.66" r="5.2" fill="none" stroke="#000000" stroke-width="2"/>
<circle cx="556.94" cy="621.66" r="5.2" fill="none" stroke="#000000" stroke-width="2"/>
<circle cx="574.81" cy="621.66" r="5.2" fill="none" stroke="#000000" stroke-width="2"/>
<circle cx="592.68" cy="621.66" r="5.2" fill="none" stroke="#000000" stroke-width="2"/>
<circle cx="610.54" cy="621.66" r="5.2" fill="none" stroke="#000000" stroke-width="2"/>
<circle cx="628.41" cy="621.66" r="5.2" fill="none" stroke="#000000" stroke-width="2"/>
<polyline points="92.4,590.46 110.27,571.93 128.13,601.02 146,630.11 163.87,622.37 181.74,621.43 199.6,621.66 217.47,621.66 235.34,621.66 253.2,621.66 271.07,621.66 288.94,621.66 306.8,621.66 324.67,621.66 342.54,621.66 360.4,621.66 378.27,621.66 396.14,621.66 414.01,621.66 431.87,621.66 449.74,621.66 467.61,621.66 485.47,621.66 503.34,621.66 521.21,621.66 539.08,621.66 556.94,621.66 574.81,621.66 592.68,621.66 610.54,621.66 628.41,621.66" fill="none" stroke="#bfbf00" stroke-width="2.4" stroke-linejoin="miter" stroke-miterlimit="10" />
<path d="M87.4 585.46L97.4 595.46M87.4 595.46L97.4 585.46" stroke="#bfbf00" stroke-width="2" fill="none"/>
<path d="M105.27 566.93L115.27 576.93M105.27 576.93L115.27 566.93" stroke="#bfbf00" stroke-width="2" fill="none"/>
<path d="M123.13 596.02L133.13 606.02M123.13 606.02L133.13 596.02" stroke="#bfbf00" stroke-width="2" fill="none"/>
<path d="M141 625.11L151 635.11M141 635.11L151 625.11" stroke="#bfbf00" stroke-width="2" fill="none"/>
<path d="M158.87 617.37L168.87 627.37M158.87 627.37L168.87 617.37" stroke="#bfbf00" stroke-width="2" fill="none"/>
<path d="M176.74 616.43L186.74 626.43M176.74 626.43L186.74 616.43" stroke="#bfbf00" stroke-width="2" fill="none"/>
<path d="M194.6 616.66L204.6 626.66M194.6 626.66L204.6 616.66" stroke="#bfbf00" stroke-width="2" fill="none"/>
<path d="M212.47 616.66L222.47 626.66M212.47 626.66L222.47 616.66" stroke="#bfbf00" stroke-width="2" fill="none"/>
<path d="M230.34 616.66L240.34 626.66M230.34 626.66L240.34 616.66" stroke="#bfbf00" stroke-width="2" fill="none"/>
<path d="M248.2 616.66L258.2 626.66M248.2 626.66L258.2 616.66" stroke="#bfbf00" stroke-width="2" fill="none"/>
<path d="M266.07 616.66L276.07 626.66M266.07 626.66L276.07 616.66" stroke="#bfbf00" stroke-width="2" fill="none"/>
<path d="M283.94 616.66L293.94 626.66M283.94 626.66L293.94 616.66" stroke="#bfbf00" stroke-width="2" fill="none"/>
<path d="M301.8 616.66L311.8 626.66M301.8 626.66L311.8 616.66" stroke="#bfbf00" stroke-width="2" fill="none"/>
<path d="M319.67 616.66L329.67 626.66M319.67 626.66L329.67 616.66" stroke="#bfbf00" stroke-width="2" fill="none"/>
<path d="M337.54 616.66L347.54 626.66M337.54 626.66L347.54 616.66" stroke="#bfbf00" stroke-width="2" fill="none"/>
<path d="M355.4 616.66L365.4 626.66M355.4 626.66L365.4 616.66" stroke="#bfbf00" stroke-width="2" fill="none"/>
<path d="M373.27 616.66L383.27 626.66M373.27 626.66L383.27 616.66" stroke="#bfbf00" stroke-width="2" fill="none"/>
<path d="M391.14 616.66L401.14 626.66M391.14 626.66L401.14 616.66" stroke="#bfbf00" stroke-width="2" fill="none"/>
<path d="M409.01 616.66L419.01 626.66M409.01 626.66L419.01 616.66" stroke="#bfbf00" stroke-width="2" fill="none"/>
<path d="M426.87 616.66L436.87 626.66M426.87 626.66L436.87 616.66" stroke="#bfbf00" stroke-width="2" fill="none"/>
<path d="M444.74 616.66L454.74 626.66M444.74 626.66L454.74 616.66" stroke="#bfbf00" stroke-width="2" fill="none"/>
<path d="M462.61 616.66L472.61 626.66M462.61 626.66L472.61 616.66" stroke="#bfbf00" stroke-width="2" fill="none"/>
<path d="M480.47 616.66L490.47 626.66M480.47 626.66L490.47 616.66" stroke="#bfbf00" stroke-width="2" fill="none"/>
<path d="M498.34 616.66L508.34 626.66M498.34 626.66L508.34 616.66" stroke="#bfbf00" stroke-width="2" fill="none"/>
<path d="M516.21 616.66L526.21 626.66M516.21 626.66L526.21 616.66" stroke="#bfbf00" stroke-width="2" fill="none"/>
<path d="M534.08 616.66L544.08 626.66M534.08 626.66L544.08 616.66" stroke="#bfbf00" stroke-width="2" fill="none"/>
<path d="M551.94 616.66L561.94 626.66M551.94 626.66L561.94 616.66" stroke="#bfbf00" stroke-width="2" fill="none"/>
<path d="M569.81 616.66L579.81 626.66M569.81 626.66L579.81 616.66" stroke="#bfbf00" stroke-width="2" fill="none"/>
<path d="M587.68 616.66L597.68 626.66M587.68 626.66L597.68 616.66" stroke="#bfbf00" stroke-width="2" fill="none"/>
<path d="M605.54 616.66L615.54 626.66M605.54 626.66L615.54 616.66" stroke="#bfbf00" stroke-width="2" fill="none"/>
<path d="M623.41 616.66L633.41 626.66M623.41 626.66L633.41 616.66" stroke="#bfbf00" stroke-width="2" fill="none"/>
<polyline points="92.4,560.67 110.27,635.04 128.13,624.71 146,622.37 163.87,621.66 181.74,621.66 199.6,621.66 217.47,621.66 235.34,621.66 253.2,621.66 271.07,621.66 288.94,621.66 306.8,621.66 324.67,621.66 342.54,621.66 360.4,621.66 378.27,621.66 396.14,621.66 414.01,621.66 431.87,621.66 449.74,621.66 467.61,621.66 485.47,621.66 503.34,621.66 521.21,621.66 539.08,621.66 556.94,621.66 574.81,621.66 592.68,621.66 610.54,621.66 628.41,621.66" fill="none" stroke="#bf00bf" stroke-width="2.4" stroke-linejoin="miter" stroke-miterlimit="10" />
<path d="M86.4 560.67L98.4 560.67M92.4 554.67L92.4 566.67" stroke="#bf00bf" stroke-width="2" fill="none"/>
<path d="M104.27 635.04L116.27 635.04M110.27 629.04L110.27 641.04" stroke="#bf00bf" stroke-width="2" fill="none"/>
<path d="M122.13 624.71L134.13 624.71M128.13 618.71L128.13 630.71" stroke="#bf00bf" stroke-width="2" fill="none"/>
<path d="M140 622.37L152 622.37M146 616.37L146 628.37" stroke="#bf00bf" stroke-width="2" fill="none"/>
<path d="M157.87 621.66L169.87 621.66M163.87 615.66L163.87 627.66" stroke="#bf00bf" stroke-width="2" fill="none"/>
<path d="M175.74 621.66L187.74 621.66M181.74 615.66L181.74 627.66" stroke="#bf00bf" stroke-width="2" fill="none"/>
<path d="M193.6 621.66L205.6 621.66M199.6 615.66L199.6 627.66" stroke="#bf00bf" stroke-width="2" fill="none"/>
<path d="M211.47 621.66L223.47 621.66M217.47 615.66L217.47 627.66" stroke="#bf00bf" stroke-width="2" fill="none"/>
<path d="M229.34 621.66L241.34 621.66M235.34 615.66L235.34 627.66" stroke="#bf00bf" stroke-width="2" fill="none"/>
<path d="M247.2 621.66L259.2 621.66M253.2 615.66L253.2 627.66" stroke="#bf00bf" stroke-width="2" fill="none"/>
<path d="M265.07 621.66L277.07 621.66M271.07 615.66L271.07 627.66" stroke="#bf00bf" stroke-width="2" fill="none"/>
<path d="M282.94 621.66L294.94 621.66M288.94 615.66L288.94 627.66" stroke="#bf00bf" stroke-width="2" fill="none"/>
<path d="M300.8 621.66L312.8 621.66M306.8 615.66L306.8 627.66" stroke="#bf00bf" stroke-width="2" fill="none"/>
<path d="M318.67 621.66L330.67 621.66M324.67 615.66L324.67 627.66" stroke="#bf00bf" stroke-width="2" fill="none"/>
<path d="M336.54 621.66L348.54 621.66M342.54 615.66L342.54 627.66" stroke="#bf00bf" stroke-width="2" fill="none"/>
<path d="M354.4 621.66L366.4 621.66M360.4 615.66L360.4 627.66" stroke="#bf00bf" stroke-width="2" fill="none"/>
<path d="M372.27 621.66L384.27 621.66M378.27 615.66L378.27 627.66" stroke="#bf00bf" stroke-width="2" fill="none"/>
<path d="M390.14 621.66L402.14 621.66M396.14 615.66L396.14 627.66" stroke="#bf00bf" stroke-width="2" fill="none"/>
<path d="M408.01 621.66L420.01 621.66M414.01 615.66L414.01 627.66" stroke="#bf00bf" stroke-width="2" fill="none"/>
<path d="M425.87 621.66L437.87 621.66M431.87 615.66L431.87 627.66" stroke="#bf00bf" stroke-width="2" fill="none"/>
<path d="M443.74 621.66L455.74 621.66M449.74 615.66L449.74 627.66" stroke="#bf00bf" stroke-width="2" fill="none"/>
<path d="M461.61 621.66L473.61 621.66M467.61 615.66L467.61 627.66" stroke="#bf00bf" stroke-width="2" fill="none"/>
<path d="M479.47 621.66L491.47 621.66M485.47 615.66L485.47 627.66" stroke="#bf00bf" stroke-width="2" fill="none"/>
<path d="M497.34 621.66L509.34 621.66M503.34 615.66L503.34 627.66" stroke="#bf00bf" stroke-width="2" fill="none"/>
<path d="M515.21 621.66L527.21 621.66M521.21 615.66L521.21 627.66" stroke="#bf00bf" stroke-width="2" fill="none"/>
<path d="M533.08 621.66L545.08 621.66M539.08 615.66L539.08 627.66" stroke="#bf00bf" stroke-width="2" fill="none"/>
<path d="M550.94 621.66L562.94 621.66M556.94 615.66L556.94 627.66" stroke="#bf00bf" stroke-width="2" fill="none"/>
<path d="M568.81 621.66L580.81 621.66M574.81 615.66L574.81 627.66" stroke="#bf00bf" stroke-width="2" fill="none"/>
<path d="M586.68 621.66L598.68 621.66M592.68 615.66L592.68 627.66" stroke="#bf00bf" stroke-width="2" fill="none"/>
<path d="M604.54 621.66L616.54 621.66M610.54 615.66L610.54 627.66" stroke="#bf00bf" stroke-width="2" fill="none"/>
<path d="M622.41 621.66L634.41 621.66M628.41 615.66L628.41 627.66" stroke="#bf00bf" stroke-width="2" fill="none"/>
<polyline points="92.4,542.37 110.27,612.75 128.13,613.92 146,611.34 163.87,616.03 181.74,620.02 199.6,621.66 217.47,621.66 235.34,621.66 253.2,621.66 271.07,621.66 288.94,621.66 306.8,621.66 324.67,621.66 342.54,621.66 360.4,621.66 378.27,621.66 396.14,621.66 414.01,621.66 431.87,621.66 449.74,621.66 467.61,621.66 485.47,621.66 503.34,621.66 521.21,621.66 539.08,621.66 556.94,621.66 574.81,621.66 592.68,621.66 610.54,621.66 628.41,621.66" fill="none" stroke="#008000" stroke-width="2.4" stroke-linejoin="miter" stroke-miterlimit="10" />
<path d="M86.4 542.37L98.4 542.37M92.4 536.37L92.4 548.37M88.16 538.13L96.64 546.61M88.16 546.61L96.64 538.13" stroke="#008000" stroke-width="2.2" fill="none"/>
<path d="M104.27 612.75L116.27 612.75M110.27 606.75L110.27 618.75M106.02 608.51L114.51 616.99M106.02 616.99L114.51 608.51" stroke="#008000" stroke-width="2.2" fill="none"/>
<path d="M122.13 613.92L134.13 613.92M128.13 607.92L128.13 619.92M123.89 609.68L132.38 618.17M123.89 618.17L132.38 609.68" stroke="#008000" stroke-width="2.2" fill="none"/>
<path d="M140 611.34L152 611.34M146 605.34L146 617.34M141.76 607.1L150.24 615.58M141.76 615.58L150.24 607.1" stroke="#008000" stroke-width="2.2" fill="none"/>
<path d="M157.87 616.03L169.87 616.03M163.87 610.03L163.87 622.03M159.63 611.79L168.11 620.28M159.63 620.28L168.11 611.79" stroke="#008000" stroke-width="2.2" fill="none"/>
<path d="M175.74 620.02L187.74 620.02M181.74 614.02L181.74 626.02M177.49 615.78L185.98 624.26M177.49 624.26L185.98 615.78" stroke="#008000" stroke-width="2.2" fill="none"/>
<path d="M193.6 621.66L205.6 621.66M199.6 615.66L199.6 627.66M195.36 617.42L203.84 625.91M195.36 625.91L203.84 617.42" stroke="#008000" stroke-width="2.2" fill="none"/>
<path d="M211.47 621.66L223.47 621.66M217.47 615.66L217.47 627.66M213.23 617.42L221.71 625.91M213.23 625.91L221.71 617.42" stroke="#008000" stroke-width="2.2" fill="none"/>
<path d="M229.34 621.66L241.34 621.66M235.34 615.66L235.34 627.66M231.09 617.42L239.58 625.91M231.09 625.91L239.58 617.42" stroke="#008000" stroke-width="2.2" fill="none"/>
<path d="M247.2 621.66L259.2 621.66M253.2 615.66L253.2 627.66M248.96 617.42L257.45 625.91M248.96 625.91L257.45 617.42" stroke="#008000" stroke-width="2.2" fill="none"/>
<path d="M265.07 621.66L277.07 621.66M271.07 615.66L271.07 627.66M266.83 617.42L275.31 625.91M266.83 625.91L275.31 617.42" stroke="#008000" stroke-width="2.2" fill="none"/>
<path d="M282.94 621.66L294.94 621.66M288.94 615.66L288.94 627.66M284.69 617.42L293.18 625.91M284.69 625.91L293.18 617.42" stroke="#008000" stroke-width="2.2" fill="none"/>
<path d="M300.8 621.66L312.8 621.66M306.8 615.66L306.8 627.66M302.56 617.42L311.05 625.91M302.56 625.91L311.05 617.42" stroke="#008000" stroke-width="2.2" fill="none"/>
<path d="M318.67 621.66L330.67 621.66M324.67 615.66L324.67 627.66M320.43 617.42L328.91 625.91M320.43 625.91L328.91 617.42" stroke="#008000" stroke-width="2.2" fill="none"/>
<path d="M336.54 621.66L348.54 621.66M342.54 615.66L342.54 627.66M338.3 617.42L346.78 625.91M338.3 625.91L346.78 617.42" stroke="#008000" stroke-width="2.2" fill="none"/>
<path d="M354.4 621.66L366.4 621.66M360.4 615.66L360.4 627.66M356.16 617.42L364.65 625.91M356.16 625.91L364.65 617.42" stroke="#008000" stroke-width="2.2" fill="none"/>
<path d="M372.27 621.66L384.27 621.66M378.27 615.66L378.27 627.66M374.03 617.42L382.51 625.91M374.03 625.91L382.51 617.42" stroke="#008000" stroke-width="2.2" fill="none"/>
<path d="M390.14 621.66L402.14 621.66M396.14 615.66L396.14 627.66M391.9 617.42L400.38 625.91M391.9 625.91L400.38 617.42" stroke="#008000" stroke-width="2.2" fill="none"/>
<path d="M408.01 621.66L420.01 621.66M414.01 615.66L414.01 627.66M409.76 617.42L418.25 625.91M409.76 625.91L418.25 617.42" stroke="#008000" stroke-width="2.2" fill="none"/>
<path d="M425.87 621.66L437.87 621.66M431.87 615.66L431.87 627.66M427.63 617.42L436.12 625.91M427.63 625.91L436.12 617.42" stroke="#008000" stroke-width="2.2" fill="none"/>
<path d="M443.74 621.66L455.74 621.66M449.74 615.66L449.74 627.66M445.5 617.42L453.98 625.91M445.5 625.91L453.98 617.42" stroke="#008000" stroke-width="2.2" fill="none"/>
<path d="M461.61 621.66L473.61 621.66M467.61 615.66L467.61 627.66M463.36 617.42L471.85 625.91M463.36 625.91L471.85 617.42" stroke="#008000" stroke-width="2.2" fill="none"/>
<path d="M479.47 621.66L491.47 621.66M485.47 615.66L485.47 627.66M481.23 617.42L489.72 625.91M481.23 625.91L489.72 617.42" stroke="#008000" stroke-width="2.2" fill="none"/>
<path d="M497.34 621.66L509.34 621.66M503.34 615.66L503.34 627.66M499.1 617.42L507.58 625.91M499.1 625.91L507.58 617.42" stroke="#008000" stroke-width="2.2" fill="none"/>
<path d="M515.21 621.66L527.21 621.66M521.21 615.66L521.21 627.66M516.97 617.42L525.45 625.91M516.97 625.91L525.45 617.42" stroke="#008000" stroke-width="2.2" fill="none"/>
<path d="M533.08 621.66L545.08 621.66M539.08 615.66L539.08 627.66M534.83 617.42L543.32 625.91M534.83 625.91L543.32 617.42" stroke="#008000" stroke-width="2.2" fill="none"/>
<path d="M550.94 621.66L562.94 621.66M556.94 615.66L556.94 627.66M552.7 617.42L561.18 625.91M552.7 625.91L561.18 617.42" stroke="#008000" stroke-width="2.2" fill="none"/>
<path d="M568.81 621.66L580.81 621.66M574.81 615.66L574.81 627.66M570.57 617.42L579.05 625.91M570.57 625.91L579.05 617.42" stroke="#008000" stroke-width="2.2" fill="none"/>
<path d="M586.68 621.66L598.68 621.66M592.68 615.66L592.68 627.66M588.43 617.42L596.92 625.91M588.43 625.91L596.92 617.42" stroke="#008000" stroke-width="2.2" fill="none"/>
<path d="M604.54 621.66L616.54 621.66M610.54 615.66L610.54 627.66M606.3 617.42L614.79 625.91M606.3 625.91L614.79 617.42" stroke="#008000" stroke-width="2.2" fill="none"/>
<path d="M622.41 621.66L634.41 621.66M628.41 615.66L628.41 627.66M624.17 617.42L632.65 625.91M624.17 625.91L632.65 617.42" stroke="#008000" stroke-width="2.2" fill="none"/>
<polyline points="92.4,647.47 110.27,636.44 128.13,627.06 146,617.68 163.87,618.61 181.74,621.66 199.6,621.66 217.47,621.66 235.34,621.66 253.2,621.66 271.07,621.66 288.94,621.66 306.8,621.66 324.67,621.66 342.54,621.66 360.4,621.66 378.27,621.66 396.14,621.66 414.01,621.66 431.87,621.66 449.74,621.66 467.61,621.66 485.47,621.66 503.34,621.66 521.21,621.66 539.08,621.66 556.94,621.66 574.81,621.66 592.68,621.66 610.54,621.66 628.41,621.66" fill="none" stroke="#0000ff" stroke-width="2.4" stroke-linejoin="miter" stroke-miterlimit="10" />
<rect x="87.8" y="642.87" width="9.2" height="9.2" fill="none" stroke="#0000ff" stroke-width="2"/>
<rect x="105.67" y="631.84" width="9.2" height="9.2" fill="none" stroke="#0000ff" stroke-width="2"/>
<rect x="123.53" y="622.46" width="9.2" height="9.2" fill="none" stroke="#0000ff" stroke-width="2"/>
<rect x="141.4" y="613.08" width="9.2" height="9.2" fill="none" stroke="#0000ff" stroke-width="2"/>
<rect x="159.27" y="614.01" width="9.2" height="9.2" fill="none" stroke="#10108a" stroke-width="2"/>
<rect x="177.14" y="617.06" width="9.2" height="9.2" fill="none" stroke="#10108a" stroke-width="2"/>
<rect x="195" y="617.06" width="9.2" height="9.2" fill="none" stroke="#10108a" stroke-width="2"/>
<rect x="212.87" y="617.06" width="9.2" height="9.2" fill="none" stroke="#10108a" stroke-width="2"/>
<rect x="230.74" y="617.06" width="9.2" height="9.2" fill="none" stroke="#10108a" stroke-width="2"/>
<rect x="248.6" y="617.06" width="9.2" height="9.2" fill="none" stroke="#10108a" stroke-width="2"/>
<rect x="266.47" y="617.06" width="9.2" height="9.2" fill="none" stroke="#10108a" stroke-width="2"/>
<rect x="284.34" y="617.06" width="9.2" height="9.2" fill="none" stroke="#10108a" stroke-width="2"/>
<rect x="302.2" y="617.06" width="9.2" height="9.2" fill="none" stroke="#10108a" stroke-width="2"/>
<rect x="320.07" y="617.06" width="9.2" height="9.2" fill="none" stroke="#10108a" stroke-width="2"/>
<rect x="337.94" y="617.06" width="9.2" height="9.2" fill="none" stroke="#10108a" stroke-width="2"/>
<rect x="355.8" y="617.06" width="9.2" height="9.2" fill="none" stroke="#10108a" stroke-width="2"/>
<rect x="373.67" y="617.06" width="9.2" height="9.2" fill="none" stroke="#10108a" stroke-width="2"/>
<rect x="391.54" y="617.06" width="9.2" height="9.2" fill="none" stroke="#10108a" stroke-width="2"/>
<rect x="409.41" y="617.06" width="9.2" height="9.2" fill="none" stroke="#10108a" stroke-width="2"/>
<rect x="427.27" y="617.06" width="9.2" height="9.2" fill="none" stroke="#10108a" stroke-width="2"/>
<rect x="445.14" y="617.06" width="9.2" height="9.2" fill="none" stroke="#10108a" stroke-width="2"/>
<rect x="463.01" y="617.06" width="9.2" height="9.2" fill="none" stroke="#10108a" stroke-width="2"/>
<rect x="480.87" y="617.06" width="9.2" height="9.2" fill="none" stroke="#10108a" stroke-width="2"/>
<rect x="498.74" y="617.06" width="9.2" height="9.2" fill="none" stroke="#10108a" stroke-width="2"/>
<rect x="516.61" y="617.06" width="9.2" height="9.2" fill="none" stroke="#10108a" stroke-width="2"/>
<rect x="534.48" y="617.06" width="9.2" height="9.2" fill="none" stroke="#10108a" stroke-width="2"/>
<rect x="552.34" y="617.06" width="9.2" height="9.2" fill="none" stroke="#10108a" stroke-width="2"/>
<rect x="570.21" y="617.06" width="9.2" height="9.2" fill="none" stroke="#10108a" stroke-width="2"/>
<rect x="588.08" y="617.06" width="9.2" height="9.2" fill="none" stroke="#10108a" stroke-width="2"/>
<rect x="605.94" y="617.06" width="9.2" height="9.2" fill="none" stroke="#10108a" stroke-width="2"/>
<rect x="623.81" y="617.06" width="9.2" height="9.2" fill="none" stroke="#10108a" stroke-width="2"/>
<polyline points="92.4,523.13 110.27,640.9 128.13,631.05 146,623.78 163.87,623.78 181.74,622.37 199.6,621.66 217.47,621.66 235.34,621.66 253.2,621.66 271.07,621.66 288.94,621.66 306.8,621.66 324.67,621.66 342.54,621.66 360.4,621.66 378.27,621.66 396.14,621.66 414.01,621.66 431.87,621.66 449.74,621.66 467.61,621.66 485.47,621.66 503.34,621.66 521.21,621.66 539.08,621.66 556.94,621.66 574.81,621.66 592.68,621.66 610.54,621.66 628.41,621.66" fill="none" stroke="#ff0000" stroke-width="2.4" stroke-linejoin="miter" stroke-miterlimit="10" />
<path d="M92.4 517.33L97.6 523.13L92.4 528.93L87.2 523.13Z" fill="none" stroke="#ff0000" stroke-width="2.8"/>
<path d="M110.27 635.1L115.47 640.9L110.27 646.7L105.07 640.9Z" fill="none" stroke="#ff0000" stroke-width="2.8"/>
<path d="M128.13 625.25L133.33 631.05L128.13 636.85L122.93 631.05Z" fill="none" stroke="#ff0000" stroke-width="2.8"/>
<path d="M146 617.18L150.6 623.78L146 630.38L141.4 623.78Z" fill="#ff0000" stroke="#ff0000" stroke-width="1.8"/>
<path d="M163.87 617.18L168.47 623.78L163.87 630.38L159.27 623.78Z" fill="#ff0000" stroke="#ff0000" stroke-width="1.8"/>
<path d="M181.74 615.77L186.34 622.37L181.74 628.97L177.14 622.37Z" fill="#ff0000" stroke="#ff0000" stroke-width="1.8"/>
<path d="M199.6 615.06L204.2 621.66L199.6 628.26L195 621.66Z" fill="#ff0000" stroke="#ff0000" stroke-width="1.8"/>
<path d="M217.47 615.06L222.07 621.66L217.47 628.26L212.87 621.66Z" fill="#ff0000" stroke="#ff0000" stroke-width="1.8"/>
<path d="M235.34 615.06L239.94 621.66L235.34 628.26L230.74 621.66Z" fill="#ff0000" stroke="#ff0000" stroke-width="1.8"/>
<path d="M253.2 615.06L257.8 621.66L253.2 628.26L248.6 621.66Z" fill="#ff0000" stroke="#ff0000" stroke-width="1.8"/>
<path d="M271.07 615.06L275.67 621.66L271.07 628.26L266.47 621.66Z" fill="#ff0000" stroke="#ff0000" stroke-width="1.8"/>
<path d="M288.94 615.06L293.54 621.66L288.94 628.26L284.34 621.66Z" fill="#ff0000" stroke="#ff0000" stroke-width="1.8"/>
<path d="M306.8 615.06L311.4 621.66L306.8 628.26L302.2 621.66Z" fill="#ff0000" stroke="#ff0000" stroke-width="1.8"/>
<path d="M324.67 615.06L329.27 621.66L324.67 628.26L320.07 621.66Z" fill="#ff0000" stroke="#ff0000" stroke-width="1.8"/>
<path d="M342.54 615.06L347.14 621.66L342.54 628.26L337.94 621.66Z" fill="#ff0000" stroke="#ff0000" stroke-width="1.8"/>
<path d="M360.4 615.06L365 621.66L360.4 628.26L355.8 621.66Z" fill="#ff0000" stroke="#ff0000" stroke-width="1.8"/>
<path d="M378.27 615.06L382.87 621.66L378.27 628.26L373.67 621.66Z" fill="#ff0000" stroke="#ff0000" stroke-width="1.8"/>
<path d="M396.14 615.06L400.74 621.66L396.14 628.26L391.54 621.66Z" fill="#ff0000" stroke="#ff0000" stroke-width="1.8"/>
<path d="M414.01 615.06L418.61 621.66L414.01 628.26L409.41 621.66Z" fill="#ff0000" stroke="#ff0000" stroke-width="1.8"/>
<path d="M431.87 615.06L436.47 621.66L431.87 628.26L427.27 621.66Z" fill="#ff0000" stroke="#ff0000" stroke-width="1.8"/>
<path d="M449.74 615.06L454.34 621.66L449.74 628.26L445.14 621.66Z" fill="#ff0000" stroke="#ff0000" stroke-width="1.8"/>
<path d="M467.61 615.06L472.21 621.66L467.61 628.26L463.01 621.66Z" fill="#ff0000" stroke="#ff0000" stroke-width="1.8"/>
<path d="M485.47 615.06L490.07 621.66L485.47 628.26L480.87 621.66Z" fill="#ff0000" stroke="#ff0000" stroke-width="1.8"/>
<path d="M503.34 615.06L507.94 621.66L503.34 628.26L498.74 621.66Z" fill="#ff0000" stroke="#ff0000" stroke-width="1.8"/>
<path d="M521.21 615.06L525.81 621.66L521.21 628.26L516.61 621.66Z" fill="#ff0000" stroke="#ff0000" stroke-width="1.8"/>
<path d="M539.08 615.06L543.68 621.66L539.08 628.26L534.48 621.66Z" fill="#ff0000" stroke="#ff0000" stroke-width="1.8"/>
<path d="M556.94 615.06L561.54 621.66L556.94 628.26L552.34 621.66Z" fill="#ff0000" stroke="#ff0000" stroke-width="1.8"/>
<path d="M574.81 615.06L579.41 621.66L574.81 628.26L570.21 621.66Z" fill="#ff0000" stroke="#ff0000" stroke-width="1.8"/>
<path d="M592.68 615.06L597.28 621.66L592.68 628.26L588.08 621.66Z" fill="#ff0000" stroke="#ff0000" stroke-width="1.8"/>
<path d="M610.54 615.06L615.14 621.66L610.54 628.26L605.94 621.66Z" fill="#ff0000" stroke="#ff0000" stroke-width="1.8"/>
<path d="M628.41 615.06L633.01 621.66L628.41 628.26L623.81 621.66Z" fill="#ff0000" stroke="#ff0000" stroke-width="1.8"/>
<line x1="92.4" y1="621.66" x2="628.41" y2="621.66" stroke="#0000ff" stroke-width="4.4"/>
<text x="87.6" y="493.4" font-size="19" text-anchor="end" >1.2</text><rect x="49.19" y="487.97" width="10" height="1.45" fill="#000"/>
<text x="87.6" y="540.32" font-size="19" text-anchor="end" >1.4</text><rect x="49.19" y="534.89" width="10" height="1.45" fill="#000"/>
<text x="87.6" y="587.24" font-size="19" text-anchor="end" >1.6</text><rect x="49.19" y="581.82" width="10" height="1.45" fill="#000"/>
<text x="87.6" y="634.16" font-size="19" text-anchor="end" >1.8</text><rect x="49.19" y="628.74" width="10" height="1.45" fill="#000"/>
<text x="87.6" y="681.08" font-size="19" text-anchor="end" >2</text><rect x="65.03" y="675.65" width="10" height="1.45" fill="#000"/>
<text x="87.6" y="728" font-size="19" text-anchor="end" >2.2</text><rect x="49.19" y="722.58" width="10" height="1.45" fill="#000"/>
<text x="87.6" y="774.92" font-size="19" text-anchor="end" >2.4</text><rect x="49.19" y="769.49" width="10" height="1.45" fill="#000"/>
<text x="87.6" y="821.84" font-size="19" text-anchor="end" >2.6</text><rect x="49.19" y="816.41" width="10" height="1.45" fill="#000"/>
<text x="87.6" y="868.76" font-size="19" text-anchor="end" >2.8</text><rect x="49.19" y="863.33" width="10" height="1.45" fill="#000"/>
<text x="87.6" y="915.68" font-size="19" text-anchor="end" >3</text><rect x="65.03" y="910.25" width="10" height="1.45" fill="#000"/>
<text x="92.4" y="931.6" font-size="19" text-anchor="middle" >0</text>
<text x="181.74" y="931.6" font-size="19" text-anchor="middle" >5</text>
<text x="271.07" y="931.6" font-size="19" text-anchor="middle" >10</text>
<text x="360.4" y="931.6" font-size="19" text-anchor="middle" >15</text>
<text x="449.74" y="931.6" font-size="19" text-anchor="middle" >20</text>
<text x="539.08" y="931.6" font-size="19" text-anchor="middle" >25</text>
<text x="628.41" y="931.6" font-size="19" text-anchor="middle" >30</text>
<text x="360.8" y="954.6" font-size="19.8" text-anchor="middle" font-weight="bold" >consensus iteration number (j)</text>
<text x="0" y="0" font-size="19.9" text-anchor="middle" font-weight="bold" transform="translate(36.8,697.4) rotate(-90)">node estimates</text>
<text x="42" y="450.8" font-size="16" >B</text>
<rect x="415.5" y="675.5" width="142.0" height="184.5" fill="#fff" stroke="#333" stroke-width="1.2"/>
<line x1="426" y1="691.2" x2="474.5" y2="691.2" stroke="#000000" stroke-width="2.4"/>
<ellipse cx="450.2" cy="691.2" rx="4.6" ry="4" fill="none" stroke="#000000" stroke-width="2"/>
<text x="479.6" y="698.2" font-size="19.7" >node 1</text>
<line x1="426" y1="716.65" x2="474.5" y2="716.65" stroke="#bfbf00" stroke-width="2.4"/>
<path d="M446.2 713.25L454.2 720.05M446.2 720.05L454.2 713.25" stroke="#bfbf00" stroke-width="2" fill="none"/>
<text x="479.6" y="723.65" font-size="19.7" >node 2</text>
<line x1="426" y1="742.1" x2="474.5" y2="742.1" stroke="#bf00bf" stroke-width="2.4"/>
<path d="M445.4 742.1L455 742.1M450.2 737.5L450.2 746.7" stroke="#bf00bf" stroke-width="2" fill="none"/>
<text x="479.6" y="749.1" font-size="19.7" >node 3</text>
<line x1="426" y1="767.55" x2="474.5" y2="767.55" stroke="#008000" stroke-width="2.4"/>
<path d="M445.8 767.55L454.6 767.55M450.2 762.55L450.2 772.55M447.09 764.01L453.31 771.09M447.09 771.09L453.31 764.01" stroke="#008000" stroke-width="2.2" fill="none"/>
<text x="479.6" y="774.55" font-size="19.7" >node 4</text>
<line x1="426" y1="793" x2="474.5" y2="793" stroke="#0000ff" stroke-width="2.4"/>
<rect x="446" y="789.1" width="8.4" height="7.8" fill="none" stroke="#0000ff" stroke-width="2"/>
<text x="479.6" y="800" font-size="19.7" >node 5</text>
<line x1="426" y1="818.45" x2="474.5" y2="818.45" stroke="#ff0000" stroke-width="2.4"/>
<path d="M450.2 812.85L454.1 818.45L450.2 824.05L446.3 818.45Z" fill="none" stroke="#ff0000" stroke-width="2.8"/>
<text x="479.6" y="825.45" font-size="19.7" >node 6</text>
<line x1="426" y1="843.9" x2="474.5" y2="843.9" stroke="#0000ff" stroke-width="4.6"/>
<text x="479.6" y="850.9" font-size="19.7" >average</text>
</g>
<g id="panelC">
<path d="M20.8 1386V964.6H583.2" fill="none" stroke="#6a6a6a" stroke-width="2"/>
<path d="M168 996.5V1338.5M240.5 996.5V1338.5M313 996.5V1338.5M385.5 996.5V1338.5M458 996.5V1338.5M95.5 1082H530.5M95.5 1167.5H530.5M95.5 1253H530.5" stroke="#4a4a4a" stroke-width="1" stroke-dasharray="1.4 4.6" fill="none"/>
<path d="M168 1338.5v-4.5M168 996.5v4.5M240.5 1338.5v-4.5M240.5 996.5v4.5M313 1338.5v-4.5M313 996.5v4.5M385.5 1338.5v-4.5M385.5 996.5v4.5M458 1338.5v-4.5M458 996.5v4.5M95.5 1082h4.5M530.5 1082h-4.5M95.5 1167.5h4.5M530.5 1167.5h-4.5M95.5 1253h4.5M530.5 1253h-4.5" stroke="#333" stroke-width="1" fill="none"/>
<rect x="95.5" y="996.5" width="435" height="342" fill="none" stroke="#333" stroke-width="1.2"/>
<polyline points="95.5,1006.76 110,1030.19 124.5,1040.96 139,1052.93 153.5,1072.25 168,1090.55 182.5,1097.39 197,1100.81 211.5,1107.99 226,1120.13 240.5,1130.22 255,1162.71 269.5,1169.21 284,1178.44 298.5,1200.85 313,1218.46 327.5,1228.2 342,1236.41 356.5,1247.87 371,1254.71 385.5,1266.17 400,1282.92 414.5,1282.92 429,1282.92 443.5,1282.92 458,1282.92 472.5,1282.92 487,1282.92 501.5,1282.92 516,1282.92 530.5,1282.92" fill="none" stroke="#000000" stroke-width="2.8" stroke-linejoin="miter" stroke-miterlimit="10" />
<text x="56.2" y="1003" font-size="16" >10</text>
<text x="73.6" y="993.2" font-size="10.5" >0</text>
<text x="56.2" y="1088.5" font-size="16" >10</text>
<rect x="74.1" y="1074.6" width="4.8" height="0.9" fill="#000"/>
<text x="79.8" y="1078.7" font-size="10.2" >5</text>
<text x="56.2" y="1174" font-size="16" >10</text>
<rect x="74.1" y="1160.1" width="4.8" height="0.9" fill="#000"/>
<text x="80.9" y="1164.2" font-size="10.2" >10</text>
<text x="56.2" y="1259.5" font-size="16" >10</text>
<rect x="74.1" y="1245.6" width="4.8" height="0.9" fill="#000"/>
<text x="80.9" y="1249.7" font-size="10.2" >15</text>
<text x="56.2" y="1345" font-size="16" >10</text>
<rect x="74.1" y="1331.1" width="4.8" height="0.9" fill="#000"/>
<text x="80.9" y="1335.2" font-size="10.2" >20</text>
<text x="95.5" y="1358" font-size="16" text-anchor="middle" >0</text>
<text x="168" y="1358" font-size="16" text-anchor="middle" >5</text>
<text x="240.5" y="1358" font-size="16" text-anchor="middle" >10</text>
<text x="313" y="1358" font-size="16" text-anchor="middle" >15</text>
<text x="385.5" y="1358" font-size="16" text-anchor="middle" >20</text>
<text x="458" y="1358" font-size="16" text-anchor="middle" >25</text>
<text x="530.5" y="1358" font-size="16" text-anchor="middle" >30</text>
<text x="314" y="1376.3" font-size="16.15" text-anchor="middle" font-weight="bold" >consensus iteration number (j)</text>
<text x="0" y="0" font-size="16" text-anchor="middle" font-weight="bold" transform="translate(46.3,1167.4) rotate(-90)">variance of node estimates</text>
<text x="13.5" y="956.7" font-size="16.5" >C</text>
</g></svg>
</body></html>
